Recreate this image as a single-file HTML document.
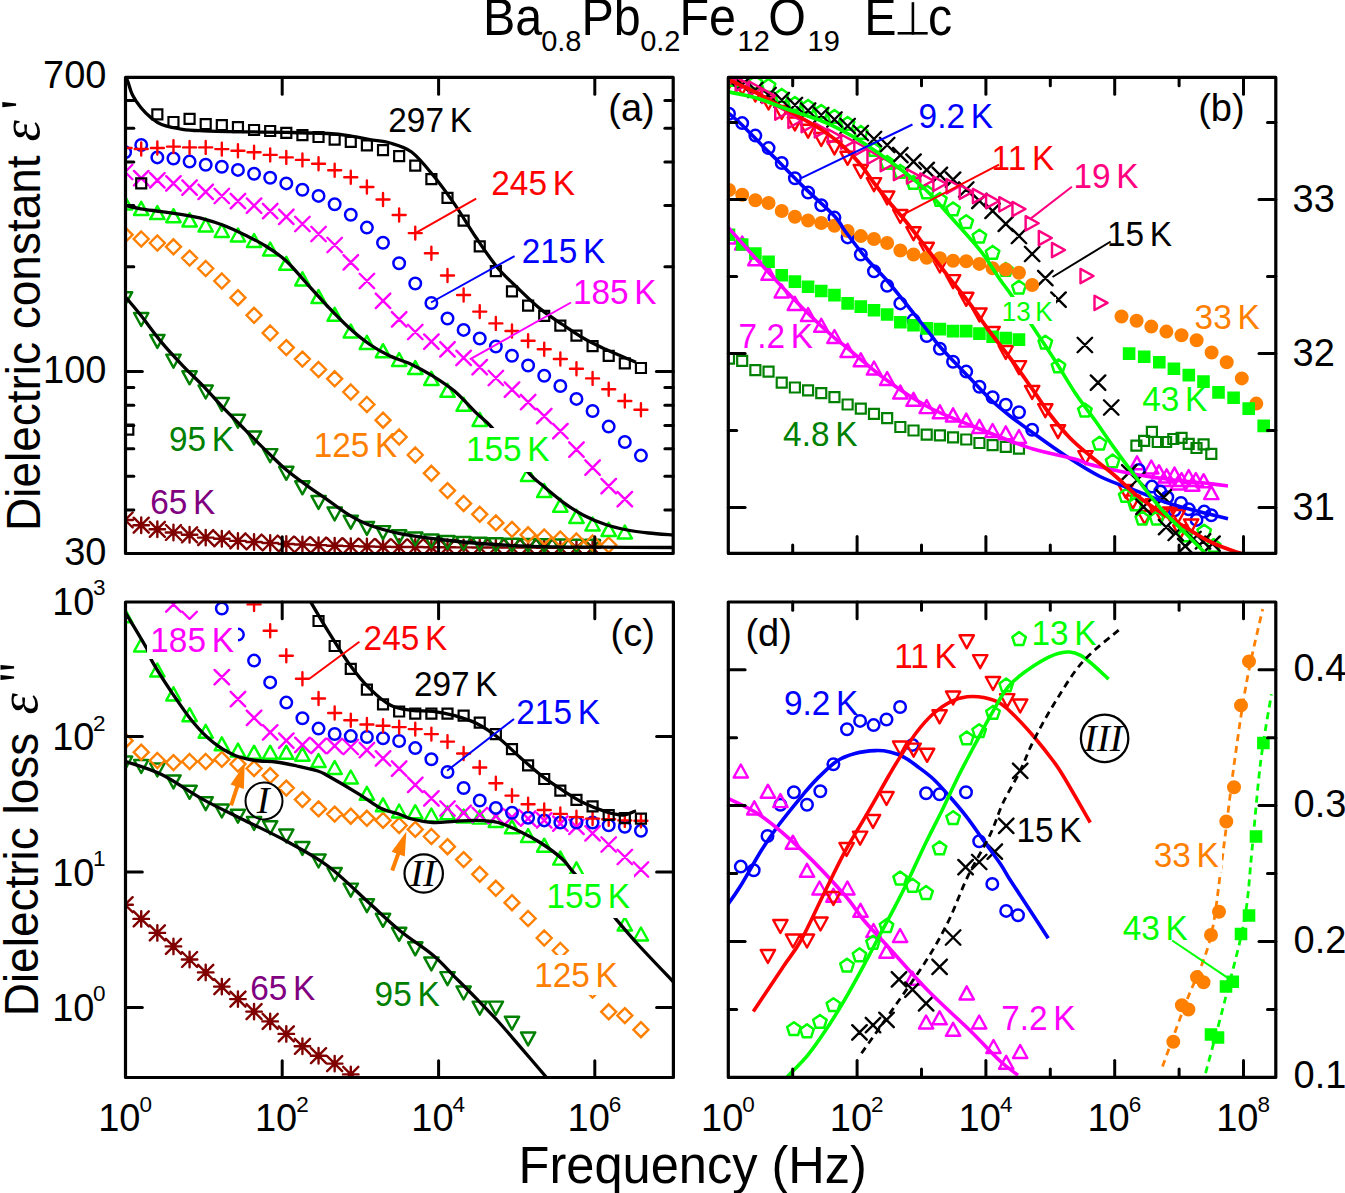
<!DOCTYPE html>
<html><head><meta charset="utf-8"><title>Ba0.8Pb0.2Fe12O19 dielectric</title>
<style>html,body{margin:0;padding:0;background:#fff;overflow:hidden}svg{display:block}</style>
</head><body><svg width="1345" height="1193" viewBox="0 0 1345 1193"><defs><clipPath id="ca"><rect x="125.5" y="77.4" width="547.7" height="476.1"/></clipPath><clipPath id="cb"><rect x="728.3" y="77.4" width="547.5" height="476"/></clipPath><clipPath id="cc"><rect x="125.5" y="602" width="547.9" height="475.5"/></clipPath><clipPath id="cd"><rect x="728.3" y="602" width="547.5" height="475.4"/></clipPath></defs><rect x="0" y="0" width="1345" height="1193" fill="#fff"/><g clip-path="url(#ca)"><path d="M117.35 520h15.5M125.1 512.25v15.5M117.58 512.48l15.04 15.04M117.58 527.52l15.04 -15.04M133.47 525.2h15.5M141.22 517.45v15.5M133.7 517.68l15.04 15.04M133.7 532.72l15.04 -15.04M149.59 529.3h15.5M157.34 521.55v15.5M149.82 521.78l15.04 15.04M149.82 536.82l15.04 -15.04M165.71 532.5h15.5M173.46 524.75v15.5M165.94 524.98l15.04 15.04M165.94 540.02l15.04 -15.04M181.83 534.8h15.5M189.58 527.05v15.5M182.06 527.28l15.04 15.04M182.06 542.32l15.04 -15.04M197.95 537.6h15.5M205.7 529.85v15.5M198.18 530.08l15.04 15.04M198.18 545.12l15.04 -15.04M214.07 538.8h15.5M221.82 531.05v15.5M214.3 531.28l15.04 15.04M214.3 546.32l15.04 -15.04M230.19 540.9h15.5M237.94 533.15v15.5M230.42 533.38l15.04 15.04M230.42 548.42l15.04 -15.04M246.31 542h15.5M254.06 534.25v15.5M246.54 534.48l15.04 15.04M246.54 549.52l15.04 -15.04M262.43 543h15.5M270.18 535.25v15.5M262.66 535.48l15.04 15.04M262.66 550.52l15.04 -15.04M278.55 544h15.5M286.3 536.25v15.5M278.78 536.48l15.04 15.04M278.78 551.52l15.04 -15.04M294.67 544.5h15.5M302.42 536.75v15.5M294.9 536.98l15.04 15.04M294.9 552.02l15.04 -15.04M310.79 545.1h15.5M318.54 537.35v15.5M311.02 537.58l15.04 15.04M311.02 552.62l15.04 -15.04M326.91 545.7h15.5M334.66 537.95v15.5M327.14 538.18l15.04 15.04M327.14 553.22l15.04 -15.04M343.03 546.1h15.5M350.78 538.35v15.5M343.26 538.58l15.04 15.04M343.26 553.62l15.04 -15.04M359.15 546.5h15.5M366.9 538.75v15.5M359.38 538.98l15.04 15.04M359.38 554.02l15.04 -15.04M375.27 546.7h15.5M383.02 538.95v15.5M375.5 539.18l15.04 15.04M375.5 554.22l15.04 -15.04M391.39 547h15.5M399.14 539.25v15.5M391.62 539.48l15.04 15.04M391.62 554.52l15.04 -15.04M407.51 547h15.5M415.26 539.25v15.5M407.74 539.48l15.04 15.04M407.74 554.52l15.04 -15.04M423.63 547.2h15.5M431.38 539.45v15.5M423.86 539.68l15.04 15.04M423.86 554.72l15.04 -15.04M439.75 547.3h15.5M447.5 539.55v15.5M439.98 539.78l15.04 15.04M439.98 554.82l15.04 -15.04M455.87 547.4h15.5M463.62 539.65v15.5M456.1 539.88l15.04 15.04M456.1 554.92l15.04 -15.04M471.99 547.5h15.5M479.74 539.75v15.5M472.22 539.98l15.04 15.04M472.22 555.02l15.04 -15.04M488.11 547.5h15.5M495.86 539.75v15.5M488.34 539.98l15.04 15.04M488.34 555.02l15.04 -15.04M504.23 547.6h15.5M511.98 539.85v15.5M504.46 540.08l15.04 15.04M504.46 555.12l15.04 -15.04M520.35 547.6h15.5M528.1 539.85v15.5M520.58 540.08l15.04 15.04M520.58 555.12l15.04 -15.04M536.47 547.7h15.5M544.22 539.95v15.5M536.7 540.18l15.04 15.04M536.7 555.22l15.04 -15.04M552.59 547.7h15.5M560.34 539.95v15.5M552.82 540.18l15.04 15.04M552.82 555.22l15.04 -15.04M568.71 547.8h15.5M576.46 540.05v15.5M568.94 540.28l15.04 15.04M568.94 555.32l15.04 -15.04M584.83 547.8h15.5M592.58 540.05v15.5M585.06 540.28l15.04 15.04M585.06 555.32l15.04 -15.04" fill="none" stroke="#800000" stroke-width="2.4" stroke-linejoin="round" stroke-linecap="round"/><path d="M125.1 305.2L132.25 292.2L117.95 292.2zM141.22 326L148.37 313L134.07 313zM157.34 347.9L164.49 334.9L150.19 334.9zM173.46 367.6L180.61 354.6L166.31 354.6zM189.58 384.3L196.73 371.3L182.43 371.3zM205.7 398.5L212.85 385.5L198.55 385.5zM221.82 411L228.97 398L214.67 398zM237.94 427.7L245.09 414.7L230.79 414.7zM254.06 444.4L261.21 431.4L246.91 431.4zM270.18 462.1L277.33 449.1L263.03 449.1zM286.3 479.8L293.45 466.8L279.15 466.8zM302.42 494.3L309.57 481.3L295.27 481.3zM318.54 508.9L325.69 495.9L311.39 495.9zM334.66 520.4L341.81 507.4L327.51 507.4zM350.78 528.7L357.93 515.7L343.63 515.7zM366.9 534.9L374.05 521.9L359.75 521.9zM383.02 539.1L390.17 526.1L375.87 526.1zM399.14 543.3L406.29 530.3L391.99 530.3zM415.26 545.5L422.41 532.5L408.11 532.5zM431.38 547.5L438.53 534.5L424.23 534.5zM447.5 549L454.65 536L440.35 536zM463.62 550L470.77 537L456.47 537zM479.74 550.7L486.89 537.7L472.59 537.7zM495.86 551.3L503.01 538.3L488.71 538.3zM511.98 551.7L519.13 538.7L504.83 538.7zM528.1 552L535.25 539L520.95 539zM544.22 552.3L551.37 539.3L537.07 539.3zM560.34 552.5L567.49 539.5L553.19 539.5zM576.46 552.7L583.61 539.7L569.31 539.7zM592.58 552.8L599.73 539.8L585.43 539.8z" fill="none" stroke="#008000" stroke-width="2.45" stroke-linejoin="round" stroke-linecap="butt"/><path d="M125.1 227.3L132.6 234.8L125.1 242.3L117.6 234.8zM141.22 231.5L148.72 239L141.22 246.5L133.72 239zM157.34 235.5L164.84 243L157.34 250.5L149.84 243zM173.46 239.3L180.96 246.8L173.46 254.3L165.96 246.8zM189.58 250.6L197.08 258.1L189.58 265.6L182.08 258.1zM205.7 261L213.2 268.5L205.7 276L198.2 268.5zM221.82 273.5L229.32 281L221.82 288.5L214.32 281zM237.94 290.2L245.44 297.7L237.94 305.2L230.44 297.7zM254.06 307.8L261.56 315.3L254.06 322.8L246.56 315.3zM270.18 325.5L277.68 333L270.18 340.5L262.68 333zM286.3 340.1L293.8 347.6L286.3 355.1L278.8 347.6zM302.42 351.6L309.92 359.1L302.42 366.6L294.92 359.1zM318.54 362L326.04 369.5L318.54 377L311.04 369.5zM334.66 371.3L342.16 378.8L334.66 386.3L327.16 378.8zM350.78 384.5L358.28 392L350.78 399.5L343.28 392zM366.9 397L374.4 404.5L366.9 412L359.4 404.5zM383.02 412.7L390.52 420.2L383.02 427.7L375.52 420.2zM399.14 429.5L406.64 437L399.14 444.5L391.64 437zM415.26 447.5L422.76 455L415.26 462.5L407.76 455zM431.38 465.8L438.88 473.3L431.38 480.8L423.88 473.3zM447.5 483.1L455 490.6L447.5 498.1L440 490.6zM463.62 496L471.12 503.5L463.62 511L456.12 503.5zM479.74 506.8L487.24 514.3L479.74 521.8L472.24 514.3zM495.86 515.4L503.36 522.9L495.86 530.4L488.36 522.9zM511.98 521.9L519.48 529.4L511.98 536.9L504.48 529.4zM528.1 527.3L535.6 534.8L528.1 542.3L520.6 534.8zM544.22 529.5L551.72 537L544.22 544.5L536.72 537zM560.34 531.5L567.84 539L560.34 546.5L552.84 539zM576.46 533.5L583.96 541L576.46 548.5L568.96 541zM592.58 535.5L600.08 543L592.58 550.5L585.08 543zM608.7 537.5L616.2 545L608.7 552.5L601.2 545z" fill="none" stroke="#FF8000" stroke-width="2.4" stroke-linejoin="miter" stroke-linecap="butt"/><path d="M125.1 196.5L132.25 209.5L117.95 209.5zM141.22 201.9L148.37 214.9L134.07 214.9zM157.34 206.1L164.49 219.1L150.19 219.1zM173.46 209.2L180.61 222.2L166.31 222.2zM189.58 213.4L196.73 226.4L182.43 226.4zM205.7 218.5L212.85 231.5L198.55 231.5zM221.82 224L228.97 237L214.67 237zM237.94 228.5L245.09 241.5L230.79 241.5zM254.06 234L261.21 247L246.91 247zM270.18 242.5L277.33 255.5L263.03 255.5zM286.3 256.8L293.45 269.8L279.15 269.8zM302.42 272.4L309.57 285.4L295.27 285.4zM318.54 290.1L325.69 303.1L311.39 303.1zM334.66 307.8L341.81 320.8L327.51 320.8zM350.78 324.5L357.93 337.5L343.63 337.5zM366.9 335.9L374.05 348.9L359.75 348.9zM383.02 344.2L390.17 357.2L375.87 357.2zM399.14 353L406.29 366L391.99 366zM415.26 361.1L422.41 374.1L408.11 374.1zM431.38 371.9L438.53 384.9L424.23 384.9zM447.5 383.8L454.65 396.8L440.35 396.8zM463.62 397.8L470.77 410.8L456.47 410.8zM479.74 412.9L486.89 425.9L472.59 425.9zM495.86 429.5L503.01 442.5L488.71 442.5zM511.98 448.5L519.13 461.5L504.83 461.5zM528.1 467.9L535.25 480.9L520.95 480.9zM544.22 484.1L551.37 497.1L537.07 497.1zM560.34 498.7L567.49 511.7L553.19 511.7zM576.46 509.9L583.61 522.9L569.31 522.9zM592.58 517.5L599.73 530.5L585.43 530.5zM608.7 522.9L615.85 535.9L601.55 535.9zM624.82 525.5L631.97 538.5L617.67 538.5z" fill="none" stroke="#00FF00" stroke-width="2.5" stroke-linejoin="round" stroke-linecap="butt"/><path d="M117.85 164.75l14.5 14.5M117.85 179.25l14.5 -14.5M133.97 170.95l14.5 14.5M133.97 185.45l14.5 -14.5M150.09 173.05l14.5 14.5M150.09 187.55l14.5 -14.5M166.21 176.15l14.5 14.5M166.21 190.65l14.5 -14.5M182.33 180.35l14.5 14.5M182.33 194.85l14.5 -14.5M198.45 184.55l14.5 14.5M198.45 199.05l14.5 -14.5M214.57 188.75l14.5 14.5M214.57 203.25l14.5 -14.5M230.69 193.85l14.5 14.5M230.69 208.35l14.5 -14.5M246.81 198.45l14.5 14.5M246.81 212.95l14.5 -14.5M262.93 203.85l14.5 14.5M262.93 218.35l14.5 -14.5M279.05 209.55l14.5 14.5M279.05 224.05l14.5 -14.5M295.17 216.75l14.5 14.5M295.17 231.25l14.5 -14.5M311.29 226.75l14.5 14.5M311.29 241.25l14.5 -14.5M327.41 237.75l14.5 14.5M327.41 252.25l14.5 -14.5M343.53 255.05l14.5 14.5M343.53 269.55l14.5 -14.5M359.65 273.75l14.5 14.5M359.65 288.25l14.5 -14.5M375.77 293.55l14.5 14.5M375.77 308.05l14.5 -14.5M391.89 312.05l14.5 14.5M391.89 326.55l14.5 -14.5M408.01 324.75l14.5 14.5M408.01 339.25l14.5 -14.5M424.13 334.45l14.5 14.5M424.13 348.95l14.5 -14.5M440.25 342.05l14.5 14.5M440.25 356.55l14.5 -14.5M456.37 350.65l14.5 14.5M456.37 365.15l14.5 -14.5M472.49 359.95l14.5 14.5M472.49 374.45l14.5 -14.5M488.61 370.75l14.5 14.5M488.61 385.25l14.5 -14.5M504.73 382.35l14.5 14.5M504.73 396.85l14.5 -14.5M520.85 394.85l14.5 14.5M520.85 409.35l14.5 -14.5M536.97 408.85l14.5 14.5M536.97 423.35l14.5 -14.5M553.09 423.95l14.5 14.5M553.09 438.45l14.5 -14.5M569.21 442.35l14.5 14.5M569.21 456.85l14.5 -14.5M585.33 460.35l14.5 14.5M585.33 474.85l14.5 -14.5M601.45 478.95l14.5 14.5M601.45 493.45l14.5 -14.5M617.57 491.95l14.5 14.5M617.57 506.45l14.5 -14.5" fill="none" stroke="#FF00FF" stroke-width="2.4" stroke-linejoin="round" stroke-linecap="round"/><path d="M119.35 152.2a5.75 5.75 0 1 0 11.5 0a5.75 5.75 0 1 0 -11.5 0zM135.47 145a5.75 5.75 0 1 0 11.5 0a5.75 5.75 0 1 0 -11.5 0zM151.59 157.4a5.75 5.75 0 1 0 11.5 0a5.75 5.75 0 1 0 -11.5 0zM167.71 158.5a5.75 5.75 0 1 0 11.5 0a5.75 5.75 0 1 0 -11.5 0zM183.83 161.6a5.75 5.75 0 1 0 11.5 0a5.75 5.75 0 1 0 -11.5 0zM199.95 164.7a5.75 5.75 0 1 0 11.5 0a5.75 5.75 0 1 0 -11.5 0zM216.07 166.8a5.75 5.75 0 1 0 11.5 0a5.75 5.75 0 1 0 -11.5 0zM232.19 169.9a5.75 5.75 0 1 0 11.5 0a5.75 5.75 0 1 0 -11.5 0zM248.31 173.7a5.75 5.75 0 1 0 11.5 0a5.75 5.75 0 1 0 -11.5 0zM264.43 177.8a5.75 5.75 0 1 0 11.5 0a5.75 5.75 0 1 0 -11.5 0zM280.55 183.4a5.75 5.75 0 1 0 11.5 0a5.75 5.75 0 1 0 -11.5 0zM296.67 189.7a5.75 5.75 0 1 0 11.5 0a5.75 5.75 0 1 0 -11.5 0zM312.79 195.9a5.75 5.75 0 1 0 11.5 0a5.75 5.75 0 1 0 -11.5 0zM328.91 204.3a5.75 5.75 0 1 0 11.5 0a5.75 5.75 0 1 0 -11.5 0zM345.03 214.7a5.75 5.75 0 1 0 11.5 0a5.75 5.75 0 1 0 -11.5 0zM361.15 227.6a5.75 5.75 0 1 0 11.5 0a5.75 5.75 0 1 0 -11.5 0zM377.27 242.8a5.75 5.75 0 1 0 11.5 0a5.75 5.75 0 1 0 -11.5 0zM393.39 263.2a5.75 5.75 0 1 0 11.5 0a5.75 5.75 0 1 0 -11.5 0zM409.51 283.5a5.75 5.75 0 1 0 11.5 0a5.75 5.75 0 1 0 -11.5 0zM425.63 303a5.75 5.75 0 1 0 11.5 0a5.75 5.75 0 1 0 -11.5 0zM441.75 318.5a5.75 5.75 0 1 0 11.5 0a5.75 5.75 0 1 0 -11.5 0zM457.87 329.9a5.75 5.75 0 1 0 11.5 0a5.75 5.75 0 1 0 -11.5 0zM473.99 338.5a5.75 5.75 0 1 0 11.5 0a5.75 5.75 0 1 0 -11.5 0zM490.11 346.5a5.75 5.75 0 1 0 11.5 0a5.75 5.75 0 1 0 -11.5 0zM506.23 355.8a5.75 5.75 0 1 0 11.5 0a5.75 5.75 0 1 0 -11.5 0zM522.35 365.5a5.75 5.75 0 1 0 11.5 0a5.75 5.75 0 1 0 -11.5 0zM538.47 375.8a5.75 5.75 0 1 0 11.5 0a5.75 5.75 0 1 0 -11.5 0zM554.59 386a5.75 5.75 0 1 0 11.5 0a5.75 5.75 0 1 0 -11.5 0zM570.71 398.9a5.75 5.75 0 1 0 11.5 0a5.75 5.75 0 1 0 -11.5 0zM586.83 411a5.75 5.75 0 1 0 11.5 0a5.75 5.75 0 1 0 -11.5 0zM602.95 426.6a5.75 5.75 0 1 0 11.5 0a5.75 5.75 0 1 0 -11.5 0zM619.07 442a5.75 5.75 0 1 0 11.5 0a5.75 5.75 0 1 0 -11.5 0zM635.19 455.6a5.75 5.75 0 1 0 11.5 0a5.75 5.75 0 1 0 -11.5 0z" fill="none" stroke="#0000FF" stroke-width="2.5" stroke-linejoin="round" stroke-linecap="butt"/><path d="M118.6 148h13M125.1 141.5v13M134.72 149h13M141.22 142.5v13M150.84 148h13M157.34 141.5v13M166.96 146.6h13M173.46 140.1v13M183.08 147.4h13M189.58 140.9v13M199.2 147.4h13M205.7 140.9v13M215.32 149.1h13M221.82 142.6v13M231.44 150.8h13M237.94 144.3v13M247.56 152.2h13M254.06 145.7v13M263.68 154.9h13M270.18 148.4v13M279.8 157.4h13M286.3 150.9v13M295.92 159.9h13M302.42 153.4v13M312.04 163.7h13M318.54 157.2v13M328.16 170.3h13M334.66 163.8v13M344.28 177.2h13M350.78 170.7v13M360.4 187h13M366.9 180.5v13M376.52 199.5h13M383.02 193v13M392.64 215h13M399.14 208.5v13M408.76 233.1h13M415.26 226.6v13M424.88 253.3h13M431.38 246.8v13M441 275.5h13M447.5 269v13M457.12 295h13M463.62 288.5v13M473.24 311.6h13M479.74 305.1v13M489.36 323.4h13M495.86 316.9v13M505.48 331h13M511.98 324.5v13M521.6 340.7h13M528.1 334.2v13M537.72 349.3h13M544.22 342.8v13M553.84 359h13M560.34 352.5v13M569.96 368.7h13M576.46 362.2v13M586.08 378.4h13M592.58 371.9v13M602.2 389.2h13M608.7 382.7v13M618.32 401h13M624.82 394.5v13M634.44 409.7h13M640.94 403.2v13" fill="none" stroke="#FF0000" stroke-width="2.4" stroke-linejoin="round" stroke-linecap="round"/><path d="M136.22 178.4h10v10h-10zM152.34 109.3h10v10h-10zM168.46 117h10v10h-10zM184.58 113.9h10v10h-10zM200.7 119.1h10v10h-10zM216.82 120.2h10v10h-10zM232.94 122.2h10v10h-10zM249.06 125h10v10h-10zM265.18 126h10v10h-10zM281.3 127.9h10v10h-10zM297.42 130.2h10v10h-10zM313.54 132h10v10h-10zM329.66 134.7h10v10h-10zM345.78 136.8h10v10h-10zM361.9 140.4h10v10h-10zM378.02 145.1h10v10h-10zM394.14 151.2h10v10h-10zM410.26 160.6h10v10h-10zM426.38 174.2h10v10h-10zM442.5 192.9h10v10h-10zM458.62 215.6h10v10h-10zM474.74 241.4h10v10h-10zM490.86 266.2h10v10h-10zM506.98 286.4h10v10h-10zM523.1 300.6h10v10h-10zM539.22 310.9h10v10h-10zM555.34 320.6h10v10h-10zM571.46 330.7h10v10h-10zM587.58 341.1h10v10h-10zM603.7 350.8h10v10h-10zM619.82 358.3h10v10h-10zM635.94 363h10v10h-10z" fill="none" stroke="#000000" stroke-width="2.2" stroke-linejoin="miter" stroke-linecap="butt"/><path d="M123.3 424.6h10v10h-10z" fill="none" stroke="#000000" stroke-width="2.2" stroke-linejoin="miter" stroke-linecap="butt"/><path d="M125.5 76C125.92 77 126.83 78.83 128 82C129.17 85.17 130.37 90.75 132.5 95C134.63 99.25 137.68 103.68 140.8 107.5C143.92 111.32 147.73 115.07 151.2 117.9C154.67 120.73 156.4 122.6 161.6 124.5C166.8 126.4 175.45 128.25 182.4 129.3C189.35 130.35 192.88 130.38 203.3 130.8C213.72 131.22 231.03 131.53 244.9 131.8C258.77 132.07 272.62 132.12 286.5 132.4C300.38 132.68 317.78 132.97 328.2 133.5C338.62 134.03 342.07 134.57 349 135.6C355.93 136.63 362.97 138.47 369.8 139.7C376.63 140.93 383.03 140.95 390 143C396.97 145.05 404.42 146.62 411.6 152C418.78 157.38 425.92 166.57 433.1 175.3C440.28 184.03 447.52 193.98 454.7 204.4C461.88 214.82 469.02 227.2 476.2 237.8C483.38 248.4 490.6 259.37 497.8 268C505 276.63 512.22 282.7 519.4 289.6C526.58 296.5 533.72 303.58 540.9 309.4C548.08 315.22 555.32 319.65 562.5 324.5C569.68 329.35 576.82 334.37 584 338.5C591.18 342.63 599.6 346.47 605.6 349.3C611.6 352.13 614.93 353.35 620 355.5C625.07 357.65 633.33 361.08 636 362.2" fill="none" stroke="#000000" stroke-width="3.3" stroke-linejoin="round"/><path d="M125.5 205.5C128.05 206.05 134.78 207.78 140.8 208.8C146.82 209.82 154.67 210.62 161.6 211.6C168.53 212.58 175.45 213.5 182.4 214.7C189.35 215.9 196.37 217 203.3 218.8C210.23 220.6 217.07 222.8 224 225.5C230.93 228.2 237.95 231.58 244.9 235C251.85 238.42 258.77 241.63 265.7 246C272.63 250.37 279.57 254.85 286.5 261.2C293.43 267.55 300.35 276.47 307.3 284.1C314.25 291.73 321.25 299.72 328.2 307C335.15 314.28 342.07 321.55 349 327.8C355.93 334.05 362.97 339.8 369.8 344.5C376.63 349.2 383.03 352.68 390 356C396.97 359.32 404.42 361.03 411.6 364.4C418.78 367.77 425.92 371.72 433.1 376.2C440.28 380.68 447.52 385.18 454.7 391.3C461.88 397.42 470.1 406.97 476.2 412.9C482.3 418.83 485.67 420.72 491.3 426.9C496.93 433.08 503.53 442.08 510 450C516.47 457.92 524.95 468.72 530.1 474.4C535.25 480.08 535.5 479.53 540.9 484.1C546.3 488.67 555.32 496.57 562.5 501.8C569.68 507.03 576.82 511.72 584 515.5C591.18 519.28 598.4 522.08 605.6 524.5C612.8 526.92 620.02 528.58 627.2 530C634.38 531.42 641.07 532.17 648.7 533C656.33 533.83 668.95 534.67 673 535" fill="none" stroke="#000000" stroke-width="3.3" stroke-linejoin="round"/><path d="M125.5 297C128.05 300.05 134.78 307.73 140.8 315.3C146.82 322.87 154.67 334.07 161.6 342.4C168.53 350.73 175.45 358.02 182.4 365.3C189.35 372.58 196.35 378.87 203.3 386.1C210.25 393.33 217.17 401.45 224.1 408.7C231.03 415.95 237.97 422.65 244.9 429.6C251.83 436.55 258.77 443.65 265.7 450.4C272.63 457.15 279.57 464.2 286.5 470.1C293.43 476 300.35 480.77 307.3 485.8C314.25 490.83 321.25 495.45 328.2 500.3C335.15 505.15 342.07 510.73 349 514.9C355.93 519.07 361.3 522.18 369.8 525.3C378.3 528.42 388.3 531.23 400 533.6C411.7 535.97 426.67 537.85 440 539.5C453.33 541.15 465 542.37 480 543.5C495 544.63 510 545.68 530 546.3C550 546.92 576.17 547 600 547.2C623.83 547.4 660.83 547.45 673 547.5" fill="none" stroke="#000000" stroke-width="3.3" stroke-linejoin="round"/></g><line x1="415.4" y1="233.1" x2="476.2" y2="198.6" stroke="#FF0000" stroke-width="2" stroke-linecap="butt"/><line x1="431" y1="302.5" x2="514.6" y2="256.1" stroke="#0000FF" stroke-width="2" stroke-linecap="butt"/><line x1="469.8" y1="359.4" x2="571" y2="302.5" stroke="#FF00FF" stroke-width="2" stroke-linecap="butt"/><text transform="translate(388.3,131.5) scale(0.94,1)" font-family='"Liberation Sans", sans-serif' font-size="35.5" fill="#000000" word-spacing="-3.8">297 K</text><text transform="translate(491.3,195.4) scale(0.94,1)" font-family='"Liberation Sans", sans-serif' font-size="35.5" fill="#FF0000" word-spacing="-3.8">245 K</text><text transform="translate(521.7,262.6) scale(0.94,1)" font-family='"Liberation Sans", sans-serif' font-size="35.5" fill="#0000FF" word-spacing="-3.8">215 K</text><text transform="translate(573,303.6) scale(0.94,1)" font-family='"Liberation Sans", sans-serif' font-size="35.5" fill="#FF00FF" word-spacing="-3.8">185 K</text><rect x="463" y="428" width="89" height="44" fill="#fff"/><text transform="translate(466,461.4) scale(0.94,1)" font-family='"Liberation Sans", sans-serif' font-size="35.5" fill="#00FF00" word-spacing="-3.8">155 K</text><text transform="translate(313.7,457) scale(0.94,1)" font-family='"Liberation Sans", sans-serif' font-size="35.5" fill="#FF8000" word-spacing="-3.8">125 K</text><text transform="translate(169,450.8) scale(0.94,1)" font-family='"Liberation Sans", sans-serif' font-size="35.5" fill="#008000" word-spacing="-3.8">95 K</text><text transform="translate(150.3,513.9) scale(0.94,1)" font-family='"Liberation Sans", sans-serif' font-size="35.5" fill="#800080" word-spacing="-3.8">65 K</text><text x="608.3" y="121" font-family='"Liberation Sans", sans-serif' font-size="38" fill="#000000" text-anchor="start">(a)</text><g clip-path="url(#cb)"><path d="M724 353.7h10v10h-10zM737.18 355.8h10v10h-10zM750.36 365.2h10v10h-10zM763.54 366.6h10v10h-10zM776.72 377.7h10v10h-10zM789.9 382.5h10v10h-10zM803.08 385.4h10v10h-10zM816.26 388.1h10v10h-10zM829.44 392.2h10v10h-10zM842.62 399.5h10v10h-10zM855.8 403.7h10v10h-10zM868.98 408.9h10v10h-10zM882.16 413.1h10v10h-10zM895.34 422h10v10h-10zM908.52 425.5h10v10h-10zM921.7 429.7h10v10h-10zM934.88 430.3h10v10h-10zM948.06 432.4h10v10h-10zM961.24 434.5h10v10h-10zM974.42 438h10v10h-10zM987.6 440.1h10v10h-10zM1000.78 441.8h10v10h-10zM1013.96 443.6h10v10h-10zM1131.4 440.6h10v10h-10zM1139.1 435.8h10v10h-10zM1146.9 426.9h10v10h-10zM1152.8 437h10v10h-10zM1161.1 437h10v10h-10zM1168.3 434h10v10h-10zM1176.6 432.8h10v10h-10zM1183.7 438.8h10v10h-10zM1191.5 443h10v10h-10zM1198.6 439.4h10v10h-10zM1206.3 448.9h10v10h-10z" fill="none" stroke="#008000" stroke-width="2.2" stroke-linejoin="miter" stroke-linecap="butt"/><path d="M729 230.5L736.15 243.5L721.85 243.5zM742.18 236.6L749.33 249.6L735.03 249.6zM755.36 252.2L762.51 265.2L748.21 265.2zM768.54 266.8L775.69 279.8L761.39 279.8zM781.72 284.5L788.87 297.5L774.57 297.5zM794.9 296.9L802.05 309.9L787.75 309.9zM808.08 308L815.23 321L800.93 321zM821.26 318.8L828.41 331.8L814.11 331.8zM834.44 330L841.59 343L827.29 343zM847.62 343.9L854.77 356.9L840.47 356.9zM860.8 353.3L867.95 366.3L853.65 366.3zM873.98 361.5L881.13 374.5L866.83 374.5zM887.16 372L894.31 385L880.01 385zM900.34 385.5L907.49 398.5L893.19 398.5zM913.52 392.8L920.67 405.8L906.37 405.8zM926.7 400.1L933.85 413.1L919.55 413.1zM939.88 405.3L947.03 418.3L932.73 418.3zM953.06 408.4L960.21 421.4L945.91 421.4zM966.24 413.6L973.39 426.6L959.09 426.6zM979.42 419.9L986.57 432.9L972.27 432.9zM992.6 424L999.75 437L985.45 437zM1005.78 426.3L1012.93 439.3L998.63 439.3zM1018.96 430L1026.11 443L1011.81 443zM1137 456.3L1144.15 469.3L1129.85 469.3zM1151.3 460.5L1158.45 473.5L1144.15 473.5zM1159 465.2L1166.15 478.2L1151.85 478.2zM1163.8 473L1170.95 486L1156.65 486zM1166.7 469.4L1173.85 482.4L1159.55 482.4zM1174.5 467.6L1181.65 480.6L1167.35 480.6zM1178 476.5L1185.15 489.5L1170.85 489.5zM1181.6 473L1188.75 486L1174.45 486zM1188.7 470L1195.85 483L1181.55 483zM1192.3 477.7L1199.45 490.7L1185.15 490.7zM1195.9 473L1203.05 486L1188.75 486zM1203.6 474.2L1210.75 487.2L1196.45 487.2zM1211.3 486.1L1218.45 499.1L1204.15 499.1z" fill="none" stroke="#FF00FF" stroke-width="2.45" stroke-linejoin="round" stroke-linecap="butt"/><path d="M723.25 113.7a5.75 5.75 0 1 0 11.5 0a5.75 5.75 0 1 0 -11.5 0zM736.43 123.1a5.75 5.75 0 1 0 11.5 0a5.75 5.75 0 1 0 -11.5 0zM749.61 135.6a5.75 5.75 0 1 0 11.5 0a5.75 5.75 0 1 0 -11.5 0zM762.79 148.1a5.75 5.75 0 1 0 11.5 0a5.75 5.75 0 1 0 -11.5 0zM775.97 163a5.75 5.75 0 1 0 11.5 0a5.75 5.75 0 1 0 -11.5 0zM789.15 178.2a5.75 5.75 0 1 0 11.5 0a5.75 5.75 0 1 0 -11.5 0zM802.33 192.5a5.75 5.75 0 1 0 11.5 0a5.75 5.75 0 1 0 -11.5 0zM815.51 205.2a5.75 5.75 0 1 0 11.5 0a5.75 5.75 0 1 0 -11.5 0zM828.69 217.6a5.75 5.75 0 1 0 11.5 0a5.75 5.75 0 1 0 -11.5 0zM841.87 237.4a5.75 5.75 0 1 0 11.5 0a5.75 5.75 0 1 0 -11.5 0zM855.05 254.5a5.75 5.75 0 1 0 11.5 0a5.75 5.75 0 1 0 -11.5 0zM868.23 271.2a5.75 5.75 0 1 0 11.5 0a5.75 5.75 0 1 0 -11.5 0zM881.41 285.8a5.75 5.75 0 1 0 11.5 0a5.75 5.75 0 1 0 -11.5 0zM894.59 303.4a5.75 5.75 0 1 0 11.5 0a5.75 5.75 0 1 0 -11.5 0zM907.77 320.1a5.75 5.75 0 1 0 11.5 0a5.75 5.75 0 1 0 -11.5 0zM920.95 336a5.75 5.75 0 1 0 11.5 0a5.75 5.75 0 1 0 -11.5 0zM934.13 348.8a5.75 5.75 0 1 0 11.5 0a5.75 5.75 0 1 0 -11.5 0zM947.31 361.8a5.75 5.75 0 1 0 11.5 0a5.75 5.75 0 1 0 -11.5 0zM960.49 371.6a5.75 5.75 0 1 0 11.5 0a5.75 5.75 0 1 0 -11.5 0zM973.67 386.8a5.75 5.75 0 1 0 11.5 0a5.75 5.75 0 1 0 -11.5 0zM986.85 397.2a5.75 5.75 0 1 0 11.5 0a5.75 5.75 0 1 0 -11.5 0zM1000.03 404.8a5.75 5.75 0 1 0 11.5 0a5.75 5.75 0 1 0 -11.5 0zM1013.21 412.3a5.75 5.75 0 1 0 11.5 0a5.75 5.75 0 1 0 -11.5 0zM1026.39 429.7a5.75 5.75 0 1 0 11.5 0a5.75 5.75 0 1 0 -11.5 0zM1133.05 470a5.75 5.75 0 1 0 11.5 0a5.75 5.75 0 1 0 -11.5 0zM1146.15 486.6a5.75 5.75 0 1 0 11.5 0a5.75 5.75 0 1 0 -11.5 0zM1154.45 491.4a5.75 5.75 0 1 0 11.5 0a5.75 5.75 0 1 0 -11.5 0zM1161.55 497.3a5.75 5.75 0 1 0 11.5 0a5.75 5.75 0 1 0 -11.5 0zM1168.75 510.4a5.75 5.75 0 1 0 11.5 0a5.75 5.75 0 1 0 -11.5 0zM1175.25 503a5.75 5.75 0 1 0 11.5 0a5.75 5.75 0 1 0 -11.5 0zM1182.95 509.2a5.75 5.75 0 1 0 11.5 0a5.75 5.75 0 1 0 -11.5 0zM1190.75 519.9a5.75 5.75 0 1 0 11.5 0a5.75 5.75 0 1 0 -11.5 0zM1198.45 511.6a5.75 5.75 0 1 0 11.5 0a5.75 5.75 0 1 0 -11.5 0zM1205.55 515.2a5.75 5.75 0 1 0 11.5 0a5.75 5.75 0 1 0 -11.5 0z" fill="none" stroke="#0000FF" stroke-width="2.5" stroke-linejoin="round" stroke-linecap="butt"/><path d="M729 88.5L736.15 75.5L721.85 75.5zM742.18 94.5L749.33 81.5L735.03 81.5zM755.36 101.5L762.51 88.5L748.21 88.5zM768.54 109.5L775.69 96.5L761.39 96.5zM781.72 119L788.87 106L774.57 106zM794.9 130.4L802.05 117.4L787.75 117.4zM808.08 137.7L815.23 124.7L800.93 124.7zM821.26 146L828.41 133L814.11 133zM834.44 154.4L841.59 141.4L827.29 141.4zM847.62 164.8L854.77 151.8L840.47 151.8zM860.8 178L867.95 165L853.65 165zM873.98 191.1L881.13 178.1L866.83 178.1zM887.16 204.5L894.31 191.5L880.01 191.5zM900.34 223L907.49 210L893.19 210zM913.52 240.2L920.67 227.2L906.37 227.2zM926.7 255.8L933.85 242.8L919.55 242.8zM939.88 272.5L947.03 259.5L932.73 259.5zM953.06 288.1L960.21 275.1L945.91 275.1zM966.24 305.8L973.39 292.8L959.09 292.8zM979.42 321.4L986.57 308.4L972.27 308.4zM992.6 339.9L999.75 326.9L985.45 326.9zM1005.78 359L1012.93 346L998.63 346zM1018.96 374.1L1026.11 361.1L1011.81 361.1zM1032.14 398.9L1039.29 385.9L1024.99 385.9zM1045.32 417.2L1052.47 404.2L1038.17 404.2zM1058 438.2L1065.15 425.2L1050.85 425.2zM1085.5 464.1L1092.65 451.1L1078.35 451.1zM1125.7 497.9L1132.85 484.9L1118.55 484.9zM1132.8 508.6L1139.95 495.6L1125.65 495.6zM1144.7 524L1151.85 511L1137.55 511zM1153 512.2L1160.15 499.2L1145.85 499.2zM1161.4 521.7L1168.55 508.7L1154.25 508.7zM1169.7 520.5L1176.85 507.5L1162.55 507.5zM1178 522.9L1185.15 509.9L1170.85 509.9zM1191.1 532.4L1198.25 519.4L1183.95 519.4zM1180.4 538.3L1187.55 525.3L1173.25 525.3z" fill="none" stroke="#FF0000" stroke-width="2.45" stroke-linejoin="round" stroke-linecap="butt"/><path d="M729 72.9L735.75 77.81L733.17 85.74L724.83 85.74L722.25 77.81zM742.18 73.9L748.93 78.81L746.35 86.74L738.01 86.74L735.43 78.81zM755.36 75.9L762.11 80.81L759.53 88.74L751.19 88.74L748.61 80.81zM768.54 78.9L775.29 83.81L772.71 91.74L764.37 91.74L761.79 83.81zM781.72 88.9L788.47 93.81L785.89 101.74L777.55 101.74L774.97 93.81zM794.9 96.9L801.65 101.81L799.07 109.74L790.73 109.74L788.15 101.81zM808.08 99.9L814.83 104.81L812.25 112.74L803.91 112.74L801.33 104.81zM821.26 104.9L828.01 109.81L825.43 117.74L817.09 117.74L814.51 109.81zM834.44 109.9L841.19 114.81L838.61 122.74L830.27 122.74L827.69 114.81zM847.62 116.9L854.37 121.81L851.79 129.74L843.45 129.74L840.87 121.81zM860.8 125.9L867.55 130.81L864.97 138.74L856.63 138.74L854.05 130.81zM873.98 142.9L880.73 147.81L878.15 155.74L869.81 155.74L867.23 147.81zM887.16 155.9L893.91 160.81L891.33 168.74L882.99 168.74L880.41 160.81zM900.34 164.9L907.09 169.81L904.51 177.74L896.17 177.74L893.59 169.81zM913.52 175.9L920.27 180.81L917.69 188.74L909.35 188.74L906.77 180.81zM926.7 185.4L933.45 190.31L930.87 198.24L922.53 198.24L919.95 190.31zM939.88 192.9L946.63 197.81L944.05 205.74L935.71 205.74L933.13 197.81zM953.06 202.4L959.81 207.31L957.23 215.24L948.89 215.24L946.31 207.31zM966.24 215.2L972.99 220.11L970.41 228.04L962.07 228.04L959.49 220.11zM979.42 229.7L986.17 234.61L983.59 242.54L975.25 242.54L972.67 234.61zM992.6 245.9L999.35 250.81L996.77 258.74L988.43 258.74L985.85 250.81zM1005.78 262.9L1012.53 267.81L1009.95 275.74L1001.61 275.74L999.03 267.81zM1018.96 280.7L1025.71 285.61L1023.13 293.54L1014.79 293.54L1012.21 285.61zM1032.14 307.9L1038.89 312.81L1036.31 320.74L1027.97 320.74L1025.39 312.81zM1045.32 335.7L1052.07 340.61L1049.49 348.54L1041.15 348.54L1038.57 340.61zM1058.5 359.4L1065.25 364.31L1062.67 372.24L1054.33 372.24L1051.75 364.31zM1084.86 403.6L1091.61 408.51L1089.03 416.44L1080.69 416.44L1078.11 408.51zM1099.5 436.7L1106.25 441.61L1103.67 449.54L1095.33 449.54L1092.75 441.61zM1112.6 454.5L1119.35 459.41L1116.77 467.34L1108.43 467.34L1105.85 459.41zM1125.7 489L1132.45 493.91L1129.87 501.84L1121.53 501.84L1118.95 493.91zM1135.2 497.4L1141.95 502.31L1139.37 510.24L1131.03 510.24L1128.45 502.31zM1142.3 511.6L1149.05 516.51L1146.47 524.44L1138.13 524.44L1135.55 516.51zM1156.6 511.6L1163.35 516.51L1160.77 524.44L1152.43 524.44L1149.85 516.51zM1185.2 528.3L1191.95 533.21L1189.37 541.14L1181.03 541.14L1178.45 533.21zM1204.2 524.7L1210.95 529.61L1208.37 537.54L1200.03 537.54L1197.45 529.61zM1213.7 539L1220.45 543.91L1217.87 551.84L1209.53 551.84L1206.95 543.91z" fill="none" stroke="#00FF00" stroke-width="2.5" stroke-linejoin="round" stroke-linecap="butt"/><path d="M721.75 72.75l14.5 14.5M721.75 87.25l14.5 -14.5M734.93 77.75l14.5 14.5M734.93 92.25l14.5 -14.5M748.11 82.75l14.5 14.5M748.11 97.25l14.5 -14.5M761.29 87.75l14.5 14.5M761.29 102.25l14.5 -14.5M774.47 92.75l14.5 14.5M774.47 107.25l14.5 -14.5M787.65 97.75l14.5 14.5M787.65 112.25l14.5 -14.5M800.83 103.25l14.5 14.5M800.83 117.75l14.5 -14.5M814.01 107.75l14.5 14.5M814.01 122.25l14.5 -14.5M827.19 112.25l14.5 14.5M827.19 126.75l14.5 -14.5M840.37 118.75l14.5 14.5M840.37 133.25l14.5 -14.5M853.55 125.75l14.5 14.5M853.55 140.25l14.5 -14.5M866.73 131.75l14.5 14.5M866.73 146.25l14.5 -14.5M879.91 137.75l14.5 14.5M879.91 152.25l14.5 -14.5M893.09 147.85l14.5 14.5M893.09 162.35l14.5 -14.5M906.27 154.45l14.5 14.5M906.27 168.95l14.5 -14.5M919.45 162.65l14.5 14.5M919.45 177.15l14.5 -14.5M932.63 167.55l14.5 14.5M932.63 182.05l14.5 -14.5M945.81 172.45l14.5 14.5M945.81 186.95l14.5 -14.5M958.99 182.25l14.5 14.5M958.99 196.75l14.5 -14.5M972.17 193.65l14.5 14.5M972.17 208.15l14.5 -14.5M985.35 203.55l14.5 14.5M985.35 218.05l14.5 -14.5M998.53 216.55l14.5 14.5M998.53 231.05l14.5 -14.5M1011.71 228.75l14.5 14.5M1011.71 243.25l14.5 -14.5M1024.89 246.75l14.5 14.5M1024.89 261.25l14.5 -14.5M1038.07 270.85l14.5 14.5M1038.07 285.35l14.5 -14.5M1051.25 292.45l14.5 14.5M1051.25 306.95l14.5 -14.5M1077.61 337.75l14.5 14.5M1077.61 352.25l14.5 -14.5M1090.79 375.45l14.5 14.5M1090.79 389.95l14.5 -14.5M1103.97 400.25l14.5 14.5M1103.97 414.75l14.5 -14.5M1122.05 465.05l14.5 14.5M1122.05 479.55l14.5 -14.5M1130.35 472.25l14.5 14.5M1130.35 486.75l14.5 -14.5M1136.25 499.55l14.5 14.5M1136.25 514.05l14.5 -14.5M1156.55 490.05l14.5 14.5M1156.55 504.55l14.5 -14.5M1158.85 519.85l14.5 14.5M1158.85 534.35l14.5 -14.5M1168.45 525.75l14.5 14.5M1168.45 540.25l14.5 -14.5M1177.95 538.85l14.5 14.5M1177.95 553.35l14.5 -14.5M1186.25 531.75l14.5 14.5M1186.25 546.25l14.5 -14.5M1195.75 534.05l14.5 14.5M1195.75 548.55l14.5 -14.5M1205.25 536.45l14.5 14.5M1205.25 550.95l14.5 -14.5" fill="none" stroke="#000000" stroke-width="2.4" stroke-linejoin="round" stroke-linecap="round"/><path d="M735.5 80L722.5 87.15L722.5 72.85zM748.68 84L735.68 91.15L735.68 76.85zM761.86 88.5L748.86 95.65L748.86 81.35zM775.04 95.8L762.04 102.95L762.04 88.65zM788.22 112.5L775.22 119.65L775.22 105.35zM801.4 120.8L788.4 127.95L788.4 113.65zM814.58 125L801.58 132.15L801.58 117.85zM827.76 130.2L814.76 137.35L814.76 123.05zM840.94 136.4L827.94 143.55L827.94 129.25zM854.12 141.6L841.12 148.75L841.12 134.45zM867.3 148.5L854.3 155.65L854.3 141.35zM880.48 156.8L867.48 163.95L867.48 149.65zM893.66 164.1L880.66 171.25L880.66 156.95zM906.84 173.1L893.84 180.25L893.84 165.95zM920.02 176.4L907.02 183.55L907.02 169.25zM933.2 180.5L920.2 187.65L920.2 173.35zM946.38 183.8L933.38 190.95L933.38 176.65zM959.56 186.2L946.56 193.35L946.56 179.05zM972.74 191.9L959.74 199.05L959.74 184.75zM985.92 196L972.92 203.15L972.92 188.85zM999.1 201L986.1 208.15L986.1 193.85zM1012.28 204.3L999.28 211.45L999.28 197.15zM1025.46 209L1012.46 216.15L1012.46 201.85zM1038.64 223.3L1025.64 230.45L1025.64 216.15zM1051.82 238L1038.82 245.15L1038.82 230.85zM1065 250L1052 257.15L1052 242.85zM1093.5 276L1080.5 283.15L1080.5 268.85zM1107.5 302.9L1094.5 310.05L1094.5 295.75z" fill="none" stroke="#FF0080" stroke-width="2.45" stroke-linejoin="round" stroke-linecap="butt"/><path d="M722 190a7 7 0 1 0 14 0a7 7 0 1 0 -14 0zM735.18 194.8a7 7 0 1 0 14 0a7 7 0 1 0 -14 0zM748.36 200.2a7 7 0 1 0 14 0a7 7 0 1 0 -14 0zM761.54 203a7 7 0 1 0 14 0a7 7 0 1 0 -14 0zM774.72 211a7 7 0 1 0 14 0a7 7 0 1 0 -14 0zM787.9 216.7a7 7 0 1 0 14 0a7 7 0 1 0 -14 0zM801.08 220.5a7 7 0 1 0 14 0a7 7 0 1 0 -14 0zM814.26 223a7 7 0 1 0 14 0a7 7 0 1 0 -14 0zM827.44 225.7a7 7 0 1 0 14 0a7 7 0 1 0 -14 0zM840.62 231a7 7 0 1 0 14 0a7 7 0 1 0 -14 0zM853.8 236.1a7 7 0 1 0 14 0a7 7 0 1 0 -14 0zM866.98 239a7 7 0 1 0 14 0a7 7 0 1 0 -14 0zM880.16 243a7 7 0 1 0 14 0a7 7 0 1 0 -14 0zM893.34 250.5a7 7 0 1 0 14 0a7 7 0 1 0 -14 0zM906.52 254.5a7 7 0 1 0 14 0a7 7 0 1 0 -14 0zM919.7 257.7a7 7 0 1 0 14 0a7 7 0 1 0 -14 0zM932.88 258.3a7 7 0 1 0 14 0a7 7 0 1 0 -14 0zM946.06 260.8a7 7 0 1 0 14 0a7 7 0 1 0 -14 0zM959.24 261.2a7 7 0 1 0 14 0a7 7 0 1 0 -14 0zM972.42 263.9a7 7 0 1 0 14 0a7 7 0 1 0 -14 0zM985.6 268.2a7 7 0 1 0 14 0a7 7 0 1 0 -14 0zM998.78 269.5a7 7 0 1 0 14 0a7 7 0 1 0 -14 0zM1011.96 272.7a7 7 0 1 0 14 0a7 7 0 1 0 -14 0zM1025.14 285a7 7 0 1 0 14 0a7 7 0 1 0 -14 0zM1114.5 316.5a7 7 0 1 0 14 0a7 7 0 1 0 -14 0zM1129.6 320.8a7 7 0 1 0 14 0a7 7 0 1 0 -14 0zM1144.3 326.6a7 7 0 1 0 14 0a7 7 0 1 0 -14 0zM1159.4 331.6a7 7 0 1 0 14 0a7 7 0 1 0 -14 0zM1174.5 335.3a7 7 0 1 0 14 0a7 7 0 1 0 -14 0zM1189.6 340.2a7 7 0 1 0 14 0a7 7 0 1 0 -14 0zM1204.6 352.5a7 7 0 1 0 14 0a7 7 0 1 0 -14 0zM1219.7 362.2a7 7 0 1 0 14 0a7 7 0 1 0 -14 0zM1234.8 378.4a7 7 0 1 0 14 0a7 7 0 1 0 -14 0zM1249.3 403.6a7 7 0 1 0 14 0a7 7 0 1 0 -14 0z" fill="#FF8000" stroke="none"/><path d="M722.7 228.5h12.6v12.6h-12.6zM735.88 238.2h12.6v12.6h-12.6zM749.06 247.2h12.6v12.6h-12.6zM762.24 255.5h12.6v12.6h-12.6zM775.42 269h12.6v12.6h-12.6zM788.6 275.3h12.6v12.6h-12.6zM801.78 280.5h12.6v12.6h-12.6zM814.96 284.7h12.6v12.6h-12.6zM828.14 288.8h12.6v12.6h-12.6zM841.32 297.1h12.6v12.6h-12.6zM854.5 300.3h12.6v12.6h-12.6zM867.68 304h12.6v12.6h-12.6zM880.86 308.2h12.6v12.6h-12.6zM894.04 315.9h12.6v12.6h-12.6zM907.22 319h12.6v12.6h-12.6zM920.4 322.1h12.6v12.6h-12.6zM933.58 322.8h12.6v12.6h-12.6zM946.76 324.8h12.6v12.6h-12.6zM959.94 324.8h12.6v12.6h-12.6zM973.12 327.3h12.6v12.6h-12.6zM986.3 330.5h12.6v12.6h-12.6zM999.48 331.8h12.6v12.6h-12.6zM1012.66 333.3h12.6v12.6h-12.6zM1122.8 347.3h12.6v12.6h-12.6zM1137.9 350.5h12.6v12.6h-12.6zM1153 355.9h12.6v12.6h-12.6zM1167.6 362.4h12.6v12.6h-12.6zM1182.5 368.8h12.6v12.6h-12.6zM1197.2 375.3h12.6v12.6h-12.6zM1212.2 386.1h12.6v12.6h-12.6zM1227.3 391.5h12.6v12.6h-12.6zM1242.4 402.3h12.6v12.6h-12.6zM1257.4 419.6h12.6v12.6h-12.6z" fill="#00FF00" stroke="none"/><path d="M726 111C728.5 113.17 735.07 118.35 741 124C746.93 129.65 755.1 138.4 761.6 144.9C768.1 151.4 773.05 156.05 780 163C786.95 169.95 794.22 177.77 803.3 186.6C812.38 195.43 827.55 208.6 834.5 216C841.45 223.4 839.75 224 845 231C850.25 238 859.08 249.83 866 258C872.92 266.17 879.67 272.17 886.5 280C893.33 287.83 900.05 296.42 907 305C913.95 313.58 923.08 325 928.2 331.5C933.32 338 934.07 339.67 937.7 344C941.33 348.33 944.65 351.83 950 357.5C955.35 363.17 963.05 371 969.8 378C976.55 385 983.8 393.17 990.5 399.5C997.2 405.83 1002.97 410.47 1010 416C1017.03 421.53 1023.38 426.03 1032.7 432.7C1042.02 439.37 1054.68 448.7 1065.9 456C1077.12 463.3 1088.05 470.6 1100 476.5C1111.95 482.4 1127.37 487.33 1137.6 491.4C1147.83 495.47 1153.47 498.13 1161.4 500.9C1169.33 503.67 1177.27 505.82 1185.2 508C1193.13 510.18 1201.87 512.22 1209 514C1216.13 515.78 1224.83 517.92 1228 518.7" fill="none" stroke="#0000FF" stroke-width="3.6" stroke-linejoin="round"/><path d="M726 225C731.93 231.65 748.72 250.95 761.6 264.9C774.48 278.85 791.15 296.52 803.3 308.7C815.45 320.88 827.57 331.78 834.5 338C841.43 344.22 836.23 339 844.9 346C853.57 353 872.62 369.83 886.5 380C900.38 390.17 914.32 399.5 928.2 407C942.08 414.5 957.83 420 969.8 425C981.77 430 989.45 433 1000 437C1010.55 441 1020.4 445.25 1033.1 449C1045.8 452.75 1066.72 456.9 1076.2 459.5C1085.68 462.1 1083.73 462.85 1090 464.6C1096.27 466.35 1105.87 468.32 1113.8 470C1121.73 471.68 1129.67 473.32 1137.6 474.7C1145.53 476.08 1153.47 477.2 1161.4 478.3C1169.33 479.4 1177.27 480.42 1185.2 481.3C1193.13 482.18 1201.87 482.82 1209 483.6C1216.13 484.38 1224.83 485.6 1228 486" fill="none" stroke="#FF00FF" stroke-width="3.6" stroke-linejoin="round"/><path d="M726 78.5C731.03 80.87 745.95 87.38 756.2 92.7C766.45 98.02 777.08 104.52 787.5 110.4C797.92 116.28 810.03 122.57 818.7 128C827.37 133.43 832.45 136.83 839.5 143C846.55 149.17 855.25 158.33 861 165C866.75 171.67 869.17 176.67 874 183C878.83 189.33 884.45 196.28 890 203C895.55 209.72 900.97 215.47 907.3 223.3C913.63 231.13 921.05 240.98 928 250C934.95 259.02 942 268.4 949 277.4C956 286.4 963.17 294.9 970 304C976.83 313.1 983.07 322.67 990 332C996.93 341.33 1004.42 350.3 1011.6 360C1018.78 369.7 1026.63 381.03 1033.1 390.2C1039.57 399.37 1044.25 407.03 1050.4 415C1056.55 422.97 1063.4 431.22 1070 438C1076.6 444.78 1082.7 449.58 1090 455.7C1097.3 461.82 1105.87 467.97 1113.8 474.7C1121.73 481.43 1129.67 489.75 1137.6 496.1C1145.53 502.45 1153.47 507.63 1161.4 512.8C1169.33 517.97 1177.27 522.35 1185.2 527.1C1193.13 531.85 1200.48 537.15 1209 541.3C1217.52 545.45 1227.8 549.22 1236.3 552C1244.8 554.78 1256.05 557 1260 558" fill="none" stroke="#FF0000" stroke-width="3.8" stroke-linejoin="round"/><path d="M726 91.5C731.03 92.57 745.95 94.93 756.2 97.9C766.45 100.87 777.08 105.65 787.5 109.3C797.92 112.95 810.03 116.5 818.7 119.8C827.37 123.1 831.78 125.07 839.5 129.1C847.22 133.13 856.13 138.3 865 144C873.87 149.7 882.63 155.72 892.7 163.3C902.77 170.88 916.02 180.88 925.4 189.5C934.78 198.12 939.87 204.85 949 215C958.13 225.15 971.7 239.65 980.2 250.4C988.7 261.15 994.77 272 1000 279.5C1005.23 287 1006.27 287.72 1011.6 295.4C1016.93 303.08 1024.82 314.83 1032 325.6C1039.18 336.37 1047.33 348.5 1054.7 360C1062.07 371.5 1069.52 384.6 1076.2 394.6C1082.88 404.6 1088.53 411.2 1094.8 420C1101.07 428.8 1106.67 437.48 1113.8 447.4C1120.93 457.32 1129.67 469.2 1137.6 479.5C1145.53 489.8 1153.47 500.28 1161.4 509.2C1169.33 518.12 1178.07 525.87 1185.2 533C1192.33 540.13 1200.07 547.83 1204.2 552C1208.33 556.17 1209.03 557 1210 558" fill="none" stroke="#00FF00" stroke-width="3.6" stroke-linejoin="round"/></g><line x1="801.2" y1="178.2" x2="912.5" y2="124.5" stroke="#0000FF" stroke-width="2" stroke-linecap="butt"/><line x1="901.1" y1="215.7" x2="999" y2="164.6" stroke="#FF0000" stroke-width="2" stroke-linecap="butt"/><line x1="1031" y1="218.4" x2="1071.9" y2="186.7" stroke="#FF0080" stroke-width="2" stroke-linecap="butt"/><line x1="1052.5" y1="277" x2="1110.7" y2="241.5" stroke="#000000" stroke-width="2" stroke-linecap="butt"/><text transform="translate(918.6,127.7) scale(0.94,1)" font-family='"Liberation Sans", sans-serif' font-size="35.5" fill="#0000FF" word-spacing="-3.8">9.2 K</text><text transform="translate(991.6,169.5) scale(0.94,1)" font-family='"Liberation Sans", sans-serif' font-size="35.5" fill="#FF0000" word-spacing="-3.8">11 K</text><text transform="translate(1073.5,188.2) scale(0.94,1)" font-family='"Liberation Sans", sans-serif' font-size="35.5" fill="#FF0080" word-spacing="-3.8">19 K</text><text transform="translate(1107,246.4) scale(0.94,1)" font-family='"Liberation Sans", sans-serif' font-size="35.5" fill="#000000" word-spacing="-3.8">15 K</text><rect x="1001" y="297" width="55" height="27" fill="#fff"/><text transform="translate(1001.7,320.8) scale(0.94,1)" font-family='"Liberation Sans", sans-serif' font-size="27.73" fill="#00FF00" word-spacing="-2.97">13 K</text><text transform="translate(1194.6,329.2) scale(0.94,1)" font-family='"Liberation Sans", sans-serif' font-size="35.5" fill="#FF8000" word-spacing="-3.8">33 K</text><text transform="translate(1142.3,411.4) scale(0.94,1)" font-family='"Liberation Sans", sans-serif' font-size="35.5" fill="#00FF00" word-spacing="-3.8">43 K</text><text transform="translate(738.6,348.2) scale(0.94,1)" font-family='"Liberation Sans", sans-serif' font-size="35.5" fill="#FF00FF" word-spacing="-3.8">7.2 K</text><text transform="translate(783.1,445.7) scale(0.94,1)" font-family='"Liberation Sans", sans-serif' font-size="35.5" fill="#008000" word-spacing="-3.8">4.8 K</text><text x="1198.2" y="121" font-family='"Liberation Sans", sans-serif' font-size="38" fill="#000000" text-anchor="start">(b)</text><g clip-path="url(#cc)"><path d="M117.35 904.7h15.5M125.1 896.95v15.5M117.58 897.18l15.04 15.04M117.58 912.22l15.04 -15.04M133.47 918.9h15.5M141.22 911.15v15.5M133.7 911.38l15.04 15.04M133.7 926.42l15.04 -15.04M149.59 932.9h15.5M157.34 925.15v15.5M149.82 925.38l15.04 15.04M149.82 940.42l15.04 -15.04M165.71 946.4h15.5M173.46 938.65v15.5M165.94 938.88l15.04 15.04M165.94 953.92l15.04 -15.04M181.83 959.5h15.5M189.58 951.75v15.5M182.06 951.98l15.04 15.04M182.06 967.02l15.04 -15.04M197.95 972.4h15.5M205.7 964.65v15.5M198.18 964.88l15.04 15.04M198.18 979.92l15.04 -15.04M214.07 986.6h15.5M221.82 978.85v15.5M214.3 979.08l15.04 15.04M214.3 994.12l15.04 -15.04M230.19 999.1h15.5M237.94 991.35v15.5M230.42 991.58l15.04 15.04M230.42 1006.62l15.04 -15.04M246.31 1011.6h15.5M254.06 1003.85v15.5M246.54 1004.08l15.04 15.04M246.54 1019.12l15.04 -15.04M262.43 1021.4h15.5M270.18 1013.65v15.5M262.66 1013.88l15.04 15.04M262.66 1028.92l15.04 -15.04M278.55 1033.9h15.5M286.3 1026.15v15.5M278.78 1026.38l15.04 15.04M278.78 1041.42l15.04 -15.04M294.67 1046.3h15.5M302.42 1038.55v15.5M294.9 1038.78l15.04 15.04M294.9 1053.82l15.04 -15.04M310.79 1055.7h15.5M318.54 1047.95v15.5M311.02 1048.18l15.04 15.04M311.02 1063.22l15.04 -15.04M326.91 1063.6h15.5M334.66 1055.85v15.5M327.14 1056.08l15.04 15.04M327.14 1071.12l15.04 -15.04M343.03 1074.4h15.5M350.78 1066.65v15.5M343.26 1066.88l15.04 15.04M343.26 1081.92l15.04 -15.04M359.15 1086h15.5M366.9 1078.25v15.5M359.38 1078.48l15.04 15.04M359.38 1093.52l15.04 -15.04" fill="none" stroke="#800000" stroke-width="2.4" stroke-linejoin="round" stroke-linecap="round"/><path d="M125.1 769.5L132.25 756.5L117.95 756.5zM141.22 773L148.37 760L134.07 760zM157.34 776.5L164.49 763.5L150.19 763.5zM173.46 788.4L180.61 775.4L166.31 775.4zM189.58 798.8L196.73 785.8L182.43 785.8zM205.7 810.2L212.85 797.2L198.55 797.2zM221.82 817.5L228.97 804.5L214.67 804.5zM237.94 822.7L245.09 809.7L230.79 809.7zM254.06 830L261.21 817L246.91 817zM270.18 834.2L277.33 821.2L263.03 821.2zM286.3 842.5L293.45 829.5L279.15 829.5zM302.42 855L309.57 842L295.27 842zM318.54 867.5L325.69 854.5L311.39 854.5zM334.66 881L341.81 868L327.51 868zM350.78 896.6L357.93 883.6L343.63 883.6zM366.9 912.2L374.05 899.2L359.75 899.2zM383.02 926.8L390.17 913.8L375.87 913.8zM399.14 940.8L406.29 927.8L391.99 927.8zM415.26 955.3L422.41 942.3L408.11 942.3zM431.38 970.4L438.53 957.4L424.23 957.4zM447.5 985.1L454.65 972.1L440.35 972.1zM463.62 999.5L470.77 986.5L456.47 986.5zM479.74 1014.6L486.89 1001.6L472.59 1001.6zM495.86 1014.6L503.01 1001.6L488.71 1001.6zM511.98 1029.7L519.13 1016.7L504.83 1016.7zM528.1 1045.4L535.25 1032.4L520.95 1032.4z" fill="none" stroke="#008000" stroke-width="2.45" stroke-linejoin="round" stroke-linecap="butt"/><path d="M125.1 733.2L132.6 740.7L125.1 748.2L117.6 740.7zM141.22 744.7L148.72 752.2L141.22 759.7L133.72 752.2zM157.34 753L164.84 760.5L157.34 768L149.84 760.5zM173.46 755.1L180.96 762.6L173.46 770.1L165.96 762.6zM189.58 754L197.08 761.5L189.58 769L182.08 761.5zM205.7 754L213.2 761.5L205.7 769L198.2 761.5zM221.82 751.9L229.32 759.4L221.82 766.9L214.32 759.4zM237.94 756.5L245.44 764L237.94 771.5L230.44 764zM254.06 761L261.56 768.5L254.06 776L246.56 768.5zM270.18 768.1L277.68 775.6L270.18 783.1L262.68 775.6zM286.3 780.6L293.8 788.1L286.3 795.6L278.8 788.1zM302.42 792.1L309.92 799.6L302.42 807.1L294.92 799.6zM318.54 801.4L326.04 808.9L318.54 816.4L311.04 808.9zM334.66 806.6L342.16 814.1L334.66 821.6L327.16 814.1zM350.78 808.7L358.28 816.2L350.78 823.7L343.28 816.2zM366.9 810.8L374.4 818.3L366.9 825.8L359.4 818.3zM383.02 812.9L390.52 820.4L383.02 827.9L375.52 820.4zM399.14 818L406.64 825.5L399.14 833L391.64 825.5zM415.26 821.9L422.76 829.4L415.26 836.9L407.76 829.4zM431.38 829L438.88 836.5L431.38 844L423.88 836.5zM447.5 839.2L455 846.7L447.5 854.2L440 846.7zM463.62 852.1L471.12 859.6L463.62 867.1L456.12 859.6zM479.74 866.8L487.24 874.3L479.74 881.8L472.24 874.3zM495.86 880.8L503.36 888.3L495.86 895.8L488.36 888.3zM511.98 895.2L519.48 902.7L511.98 910.2L504.48 902.7zM528.1 911L535.6 918.5L528.1 926L520.6 918.5zM544.22 930.5L551.72 938L544.22 945.5L536.72 938zM560.34 943L567.84 950.5L560.34 958L552.84 950.5zM576.46 960.5L583.96 968L576.46 975.5L568.96 968zM592.58 982.5L600.08 990L592.58 997.5L585.08 990zM608.7 1004.3L616.2 1011.8L608.7 1019.3L601.2 1011.8zM624.82 1008.1L632.32 1015.6L624.82 1023.1L617.32 1015.6zM640.94 1022.2L648.44 1029.7L640.94 1037.2L633.44 1029.7z" fill="none" stroke="#FF8000" stroke-width="2.4" stroke-linejoin="miter" stroke-linecap="butt"/><path d="M125.1 609.3L132.25 622.3L117.95 622.3zM141.22 638.5L148.37 651.5L134.07 651.5zM157.34 663.5L164.49 676.5L150.19 676.5zM173.46 687.4L180.61 700.4L166.31 700.4zM189.58 708.2L196.73 721.2L182.43 721.2zM205.7 724.8L212.85 737.8L198.55 737.8zM221.82 737.3L228.97 750.3L214.67 750.3zM237.94 743.6L245.09 756.6L230.79 756.6zM254.06 745.7L261.21 758.7L246.91 758.7zM270.18 745.7L277.33 758.7L263.03 758.7zM286.3 745.7L293.45 758.7L279.15 758.7zM302.42 747.7L309.57 760.7L295.27 760.7zM318.54 754L325.69 767L311.39 767zM334.66 761L341.81 774L327.51 774zM350.78 770.5L357.93 783.5L343.63 783.5zM366.9 786.8L374.05 799.8L359.75 799.8zM383.02 798.3L390.17 811.3L375.87 811.3zM399.14 804.5L406.29 817.5L391.99 817.5zM415.26 805.2L422.41 818.2L408.11 818.2zM431.38 808.5L438.53 821.5L424.23 821.5zM447.5 806.3L454.65 819.3L440.35 819.3zM463.62 809.6L470.77 822.6L456.47 822.6zM479.74 810.6L486.89 823.6L472.59 823.6zM495.86 813.9L503.01 826.9L488.71 826.9zM511.98 820.3L519.13 833.3L504.83 833.3zM528.1 829L535.25 842L520.95 842zM544.22 838.7L551.37 851.7L537.07 851.7zM560.34 851.6L567.49 864.6L553.19 864.6zM576.46 862.4L583.61 875.4L569.31 875.4zM592.58 878.5L599.73 891.5L585.43 891.5zM608.7 898.5L615.85 911.5L601.55 911.5zM624.82 917.5L631.97 930.5L617.67 930.5zM640.94 927.5L648.09 940.5L633.79 940.5z" fill="none" stroke="#00FF00" stroke-width="2.45" stroke-linejoin="round" stroke-linecap="butt"/><path d="M117.85 567.75l14.5 14.5M117.85 582.25l14.5 -14.5M133.97 577.75l14.5 14.5M133.97 592.25l14.5 -14.5M150.09 584.75l14.5 14.5M150.09 599.25l14.5 -14.5M166.21 597.15l14.5 14.5M166.21 611.65l14.5 -14.5M182.33 611.75l14.5 14.5M182.33 626.25l14.5 -14.5M198.45 640.75l14.5 14.5M198.45 655.25l14.5 -14.5M214.57 669.95l14.5 14.5M214.57 684.45l14.5 -14.5M230.69 691.85l14.5 14.5M230.69 706.35l14.5 -14.5M246.81 710.55l14.5 14.5M246.81 725.05l14.5 -14.5M262.93 725.15l14.5 14.5M262.93 739.65l14.5 -14.5M279.05 733.45l14.5 14.5M279.05 747.95l14.5 -14.5M295.17 737.65l14.5 14.5M295.17 752.15l14.5 -14.5M311.29 738.65l14.5 14.5M311.29 753.15l14.5 -14.5M327.41 738.65l14.5 14.5M327.41 753.15l14.5 -14.5M343.53 739.75l14.5 14.5M343.53 754.25l14.5 -14.5M359.65 742.85l14.5 14.5M359.65 757.35l14.5 -14.5M375.77 751.15l14.5 14.5M375.77 765.65l14.5 -14.5M391.89 761.35l14.5 14.5M391.89 775.85l14.5 -14.5M408.01 777.55l14.5 14.5M408.01 792.05l14.5 -14.5M424.13 791.15l14.5 14.5M424.13 805.65l14.5 -14.5M440.25 801.25l14.5 14.5M440.25 815.75l14.5 -14.5M456.37 805.55l14.5 14.5M456.37 820.05l14.5 -14.5M472.49 807.75l14.5 14.5M472.49 822.25l14.5 -14.5M488.61 808.85l14.5 14.5M488.61 823.35l14.5 -14.5M504.73 809.85l14.5 14.5M504.73 824.35l14.5 -14.5M520.85 811.35l14.5 14.5M520.85 825.85l14.5 -14.5M536.97 813.15l14.5 14.5M536.97 827.65l14.5 -14.5M553.09 816.35l14.5 14.5M553.09 830.85l14.5 -14.5M569.21 819.55l14.5 14.5M569.21 834.05l14.5 -14.5M585.33 826.05l14.5 14.5M585.33 840.55l14.5 -14.5M601.45 837.25l14.5 14.5M601.45 851.75l14.5 -14.5M617.57 849.75l14.5 14.5M617.57 864.25l14.5 -14.5M633.69 862.25l14.5 14.5M633.69 876.75l14.5 -14.5" fill="none" stroke="#FF00FF" stroke-width="2.4" stroke-linejoin="round" stroke-linecap="round"/><path d="M199.95 582a5.75 5.75 0 1 0 11.5 0a5.75 5.75 0 1 0 -11.5 0zM216.07 608.5a5.75 5.75 0 1 0 11.5 0a5.75 5.75 0 1 0 -11.5 0zM232.19 634.6a5.75 5.75 0 1 0 11.5 0a5.75 5.75 0 1 0 -11.5 0zM248.31 660.6a5.75 5.75 0 1 0 11.5 0a5.75 5.75 0 1 0 -11.5 0zM264.43 682.4a5.75 5.75 0 1 0 11.5 0a5.75 5.75 0 1 0 -11.5 0zM280.55 702.6a5.75 5.75 0 1 0 11.5 0a5.75 5.75 0 1 0 -11.5 0zM296.67 718.2a5.75 5.75 0 1 0 11.5 0a5.75 5.75 0 1 0 -11.5 0zM312.79 728.6a5.75 5.75 0 1 0 11.5 0a5.75 5.75 0 1 0 -11.5 0zM328.91 734a5.75 5.75 0 1 0 11.5 0a5.75 5.75 0 1 0 -11.5 0zM345.03 736.1a5.75 5.75 0 1 0 11.5 0a5.75 5.75 0 1 0 -11.5 0zM361.15 737a5.75 5.75 0 1 0 11.5 0a5.75 5.75 0 1 0 -11.5 0zM377.27 738.2a5.75 5.75 0 1 0 11.5 0a5.75 5.75 0 1 0 -11.5 0zM393.39 741a5.75 5.75 0 1 0 11.5 0a5.75 5.75 0 1 0 -11.5 0zM409.51 748.1a5.75 5.75 0 1 0 11.5 0a5.75 5.75 0 1 0 -11.5 0zM425.63 759.3a5.75 5.75 0 1 0 11.5 0a5.75 5.75 0 1 0 -11.5 0zM441.75 772a5.75 5.75 0 1 0 11.5 0a5.75 5.75 0 1 0 -11.5 0zM457.87 788a5.75 5.75 0 1 0 11.5 0a5.75 5.75 0 1 0 -11.5 0zM473.99 800.5a5.75 5.75 0 1 0 11.5 0a5.75 5.75 0 1 0 -11.5 0zM490.11 807.9a5.75 5.75 0 1 0 11.5 0a5.75 5.75 0 1 0 -11.5 0zM506.23 812.8a5.75 5.75 0 1 0 11.5 0a5.75 5.75 0 1 0 -11.5 0zM522.35 817.8a5.75 5.75 0 1 0 11.5 0a5.75 5.75 0 1 0 -11.5 0zM538.47 820.4a5.75 5.75 0 1 0 11.5 0a5.75 5.75 0 1 0 -11.5 0zM554.59 822.5a5.75 5.75 0 1 0 11.5 0a5.75 5.75 0 1 0 -11.5 0zM570.71 822.5a5.75 5.75 0 1 0 11.5 0a5.75 5.75 0 1 0 -11.5 0zM586.83 822.5a5.75 5.75 0 1 0 11.5 0a5.75 5.75 0 1 0 -11.5 0zM602.95 825.3a5.75 5.75 0 1 0 11.5 0a5.75 5.75 0 1 0 -11.5 0zM619.07 826.8a5.75 5.75 0 1 0 11.5 0a5.75 5.75 0 1 0 -11.5 0zM635.19 830.7a5.75 5.75 0 1 0 11.5 0a5.75 5.75 0 1 0 -11.5 0z" fill="none" stroke="#0000FF" stroke-width="2.5" stroke-linejoin="round" stroke-linecap="butt"/><path d="M231.44 580h13M237.94 573.5v13M247.56 604.4h13M254.06 597.9v13M263.68 630.8h13M270.18 624.3v13M279.8 655.8h13M286.3 649.3v13M295.92 678.7h13M302.42 672.2v13M312.04 698.5h13M318.54 692v13M328.16 713h13M334.66 706.5v13M344.28 720.3h13M350.78 713.8v13M360.4 724.5h13M366.9 718v13M376.52 725.7h13M383.02 719.2v13M392.64 727.1h13M399.14 720.6v13M408.76 729.1h13M415.26 722.6v13M424.88 734.1h13M431.38 727.6v13M441 741.6h13M447.5 735.1v13M457.12 753.5h13M463.62 747v13M473.24 767.5h13M479.74 761v13M489.36 783.3h13M495.86 776.8v13M505.48 795.6h13M511.98 789.1v13M521.6 804.2h13M528.1 797.7v13M537.72 810h13M544.22 803.5v13M553.84 813.9h13M560.34 807.4v13M569.96 817.1h13M576.46 810.6v13M586.08 818.6h13M592.58 812.1v13M602.2 819.3h13M608.7 812.8v13M618.32 820.4h13M624.82 813.9v13M634.44 820.8h13M640.94 814.3v13" fill="none" stroke="#FF0000" stroke-width="2.4" stroke-linejoin="round" stroke-linecap="round"/><path d="M297.42 592h10v10h-10zM313.54 616h10v10h-10zM329.66 641h10v10h-10zM345.78 663.9h10v10h-10zM361.9 684.7h10v10h-10zM378.02 699.3h10v10h-10zM394.14 706.5h10v10h-10zM410.26 708.6h10v10h-10zM426.38 708.6h10v10h-10zM442.5 708.6h10v10h-10zM458.62 710.7h10v10h-10zM474.74 717.6h10v10h-10zM490.86 729.1h10v10h-10zM506.98 744.2h10v10h-10zM523.1 760.4h10v10h-10zM539.22 774h10v10h-10zM555.34 785.6h10v10h-10zM571.46 794.9h10v10h-10zM587.58 801.4h10v10h-10zM603.7 810h10v10h-10zM619.82 813.2h10v10h-10zM635.94 813.6h10v10h-10z" fill="none" stroke="#000000" stroke-width="2.2" stroke-linejoin="miter" stroke-linecap="butt"/><path d="M305 592C306.08 593.88 307.63 596.73 311.5 603.3C315.37 609.87 321.95 621.33 328.2 631.4C334.45 641.47 342.07 654.15 349 663.7C355.93 673.25 362.87 681.77 369.8 688.7C376.73 695.63 383.63 701.68 390.6 705.3C397.57 708.92 404.52 709.38 411.6 710.4C418.68 711.42 425.92 710.52 433.1 711.4C440.28 712.28 447.52 713.72 454.7 715.7C461.88 717.68 469.02 719.7 476.2 723.3C483.38 726.9 490.6 731.73 497.8 737.3C505 742.87 512.22 750.4 519.4 756.7C526.58 763 533.72 769.52 540.9 775.1C548.08 780.68 555.32 785.53 562.5 790.2C569.68 794.87 576.82 799.52 584 803.1C591.18 806.68 599.12 809.72 605.6 811.7C612.08 813.68 617.83 815.17 622.9 815C627.97 814.83 633.82 811.42 636 810.7" fill="none" stroke="#000000" stroke-width="3.3" stroke-linejoin="round"/><path d="M124 609C124.37 609.78 122.37 607.03 126.2 613.7C130.03 620.37 142.65 641.02 147 649C151.35 656.98 148.13 654.3 152.3 661.6C156.47 668.9 165.23 682.73 172 692.8C178.77 702.87 185.95 713.67 192.9 722C199.85 730.33 206.77 737.25 213.7 742.8C220.63 748.35 227.57 752.35 234.5 755.3C241.43 758.25 248.37 759.38 255.3 760.5C262.23 761.62 269.17 761.08 276.1 762C283.03 762.92 289.95 764.5 296.9 766C303.85 767.5 312.58 769.33 317.8 771C323.02 772.67 321.27 772.12 328.2 776C335.13 779.88 350.73 788.98 359.4 794.3C368.07 799.62 373.43 804.53 380.2 807.9C386.97 811.27 394.77 812.65 400 814.5C405.23 816.35 406.08 817.67 411.6 819C417.12 820.33 425.92 822.1 433.1 822.5C440.28 822.9 447.52 821.75 454.7 821.4C461.88 821.05 469.02 820.22 476.2 820.4C483.38 820.58 490.6 820.7 497.8 822.5C505 824.3 512.22 827.78 519.4 831.2C526.58 834.62 533.72 838.33 540.9 843C548.08 847.67 557.1 854.35 562.5 859.2C567.9 864.05 567.88 866.13 573.3 872.1C578.72 878.07 587.82 887.08 595 895C602.18 902.92 609.23 911.35 616.4 919.6C623.57 927.85 628.57 934.18 638 944.5C647.43 954.82 667.17 975.33 673 981.5" fill="none" stroke="#000000" stroke-width="3.3" stroke-linejoin="round"/><path d="M125.5 761.5C131.52 763.68 148.63 768.25 161.6 774.6C174.57 780.95 189.42 791.97 203.3 799.6C217.18 807.23 231.03 813.47 244.9 820.4C258.77 827.33 272.62 833.57 286.5 841.2C300.38 848.83 314.32 855.8 328.2 866.2C342.08 876.6 357.83 892.85 369.8 903.6C381.77 914.35 389.45 922.08 400 930.7C410.55 939.32 423.98 947.62 433.1 955.3C442.22 962.98 447.52 969.62 454.7 976.8C461.88 983.98 469.02 991.03 476.2 998.4C483.38 1005.77 490.6 1013.1 497.8 1021C505 1028.9 511.2 1036.3 519.4 1045.8C527.6 1055.3 542.4 1072.63 547 1078" fill="none" stroke="#000000" stroke-width="3.3" stroke-linejoin="round"/></g><line x1="309.4" y1="678.7" x2="359.4" y2="641.8" stroke="#FF0000" stroke-width="2" stroke-linecap="butt"/><line x1="447.1" y1="770.7" x2="514" y2="719" stroke="#0000FF" stroke-width="2" stroke-linecap="butt"/><line x1="231.1" y1="805.3" x2="237.82" y2="784.9" stroke="#FF8000" stroke-width="4" stroke-linecap="butt"/><path d="M244.7 764L243.84 788.99L230.54 784.61z" fill="#FF8000"/><line x1="392.2" y1="870.5" x2="398.87" y2="852.17" stroke="#FF8000" stroke-width="4" stroke-linecap="butt"/><path d="M406.4 831.5L404.77 856.45L391.61 851.66z" fill="#FF8000"/><circle cx="264" cy="801" r="18.5" fill="none" stroke="#000" stroke-width="2"/><text x="263.2" y="813.4" font-family='"Liberation Serif", serif' font-size="38.5" fill="#000000" text-anchor="middle" font-style="italic">I</text><circle cx="423.7" cy="873.5" r="19.2" fill="none" stroke="#000" stroke-width="2.2"/><text x="423" y="885.8" font-family='"Liberation Serif", serif' font-size="38.5" fill="#000000" text-anchor="middle" font-style="italic">II</text><rect x="147" y="620" width="91" height="39" fill="#fff"/><text transform="translate(150.3,652.2) scale(0.94,1)" font-family='"Liberation Sans", sans-serif' font-size="35.5" fill="#FF00FF" word-spacing="-3.8">185 K</text><text transform="translate(363.6,650.2) scale(0.94,1)" font-family='"Liberation Sans", sans-serif' font-size="35.5" fill="#FF0000" word-spacing="-3.8">245 K</text><text transform="translate(413.9,696.3) scale(0.94,1)" font-family='"Liberation Sans", sans-serif' font-size="35.5" fill="#000000" word-spacing="-3.8">297 K</text><text transform="translate(516.3,724.4) scale(0.94,1)" font-family='"Liberation Sans", sans-serif' font-size="35.5" fill="#0000FF" word-spacing="-3.8">215 K</text><rect x="541" y="874" width="93" height="44" fill="#fff"/><text transform="translate(546.5,907.7) scale(0.94,1)" font-family='"Liberation Sans", sans-serif' font-size="35.5" fill="#00FF00" word-spacing="-3.8">155 K</text><rect x="530" y="955" width="92" height="40" fill="#fff"/><text transform="translate(534.2,986.5) scale(0.94,1)" font-family='"Liberation Sans", sans-serif' font-size="35.5" fill="#FF8000" word-spacing="-3.8">125 K</text><text transform="translate(374.6,1005.9) scale(0.94,1)" font-family='"Liberation Sans", sans-serif' font-size="35.5" fill="#008000" word-spacing="-3.8">95 K</text><text transform="translate(250.2,999.9) scale(0.94,1)" font-family='"Liberation Sans", sans-serif' font-size="35.5" fill="#800080" word-spacing="-3.8">65 K</text><text x="610.5" y="645.6" font-family='"Liberation Sans", sans-serif' font-size="38" fill="#000000" text-anchor="start">(c)</text><g clip-path="url(#cd)"><path d="M735.05 866.6a5.75 5.75 0 1 0 11.5 0a5.75 5.75 0 1 0 -11.5 0zM747.95 870.3a5.75 5.75 0 1 0 11.5 0a5.75 5.75 0 1 0 -11.5 0zM761.75 836a5.75 5.75 0 1 0 11.5 0a5.75 5.75 0 1 0 -11.5 0zM774.65 804.8a5.75 5.75 0 1 0 11.5 0a5.75 5.75 0 1 0 -11.5 0zM788.15 792.3a5.75 5.75 0 1 0 11.5 0a5.75 5.75 0 1 0 -11.5 0zM801.25 804.8a5.75 5.75 0 1 0 11.5 0a5.75 5.75 0 1 0 -11.5 0zM814.55 791.2a5.75 5.75 0 1 0 11.5 0a5.75 5.75 0 1 0 -11.5 0zM827.65 764.2a5.75 5.75 0 1 0 11.5 0a5.75 5.75 0 1 0 -11.5 0zM841.25 729.3a5.75 5.75 0 1 0 11.5 0a5.75 5.75 0 1 0 -11.5 0zM854.35 720.9a5.75 5.75 0 1 0 11.5 0a5.75 5.75 0 1 0 -11.5 0zM867.85 725.1a5.75 5.75 0 1 0 11.5 0a5.75 5.75 0 1 0 -11.5 0zM880.75 719.5a5.75 5.75 0 1 0 11.5 0a5.75 5.75 0 1 0 -11.5 0zM894.35 707a5.75 5.75 0 1 0 11.5 0a5.75 5.75 0 1 0 -11.5 0zM906.75 744.9a5.75 5.75 0 1 0 11.5 0a5.75 5.75 0 1 0 -11.5 0zM920.35 793.3a5.75 5.75 0 1 0 11.5 0a5.75 5.75 0 1 0 -11.5 0zM933.85 794.3a5.75 5.75 0 1 0 11.5 0a5.75 5.75 0 1 0 -11.5 0zM960.25 792.3a5.75 5.75 0 1 0 11.5 0a5.75 5.75 0 1 0 -11.5 0zM973.45 841.2a5.75 5.75 0 1 0 11.5 0a5.75 5.75 0 1 0 -11.5 0zM986.55 883.9a5.75 5.75 0 1 0 11.5 0a5.75 5.75 0 1 0 -11.5 0zM1000.45 910.9a5.75 5.75 0 1 0 11.5 0a5.75 5.75 0 1 0 -11.5 0zM1012.25 915.2a5.75 5.75 0 1 0 11.5 0a5.75 5.75 0 1 0 -11.5 0z" fill="none" stroke="#0000FF" stroke-width="2.5" stroke-linejoin="round" stroke-linecap="butt"/><path d="M740.8 764.5L747.95 777.5L733.65 777.5zM754.3 801.4L761.45 814.4L747.15 814.4zM767.9 784.7L775.05 797.7L760.75 797.7zM780.4 794.1L787.55 807.1L773.25 807.1zM792.9 835.7L800.05 848.7L785.75 848.7zM807 863.8L814.15 876.8L799.85 876.8zM819.5 881.5L826.65 894.5L812.35 894.5zM833.4 888.8L840.55 901.8L826.25 901.8zM847.4 881.5L854.55 894.5L840.25 894.5zM860.5 903.8L867.65 916.8L853.35 916.8zM873.5 924L880.65 937L866.35 937zM886.5 944.7L893.65 957.7L879.35 957.7zM900.1 929L907.25 942L892.95 942zM912.5 971.8L919.65 984.8L905.35 984.8zM926.1 1015.5L933.25 1028.5L918.95 1028.5zM939.6 1011.3L946.75 1024.3L932.45 1024.3zM953.1 1022.8L960.25 1035.8L945.95 1035.8zM966.7 986.4L973.85 999.4L959.55 999.4zM979.2 1015.5L986.35 1028.5L972.05 1028.5zM993.5 1040L1000.65 1053L986.35 1053zM1006.2 1055.8L1013.35 1068.8L999.05 1068.8zM1020.2 1045L1027.35 1058L1013.05 1058z" fill="none" stroke="#FF00FF" stroke-width="2.45" stroke-linejoin="round" stroke-linecap="butt"/><path d="M767.9 962.9L775.05 949.9L760.75 949.9zM780.4 933L787.55 920L773.25 920zM793 947.5L800.15 934.5L785.85 934.5zM807 947.5L814.15 934.5L799.85 934.5zM820.5 930.5L827.65 917.5L813.35 917.5zM833.4 904.9L840.55 891.9L826.25 891.9zM846.6 856L853.75 843L839.45 843zM860.1 844.6L867.25 831.6L852.95 831.6zM873 827.9L880.15 814.9L865.85 814.9zM886.5 805L893.65 792L879.35 792zM900.1 754.5L907.25 741.5L892.95 741.5zM913.6 756.6L920.75 743.6L906.45 743.6zM927.1 761.8L934.25 748.8L919.95 748.8zM939.6 723.3L946.75 710.3L932.45 710.3zM953.1 704.5L960.25 691.5L945.95 691.5zM966.7 648.3L973.85 635.3L959.55 635.3zM980.2 668.1L987.35 655.1L973.05 655.1zM993 690L1000.15 677L985.85 677zM1007.2 707.1L1014.35 694.1L1000.05 694.1zM1020.2 712.5L1027.35 699.5L1013.05 699.5z" fill="none" stroke="#FF0000" stroke-width="2.45" stroke-linejoin="round" stroke-linecap="butt"/><path d="M793.9 1022.2L800.65 1027.11L798.07 1035.04L789.73 1035.04L787.15 1027.11zM807 1024.3L813.75 1029.21L811.17 1037.14L802.83 1037.14L800.25 1029.21zM819.9 1014.9L826.65 1019.81L824.07 1027.74L815.73 1027.74L813.15 1019.81zM833.4 998.2L840.15 1003.11L837.57 1011.04L829.23 1011.04L826.65 1003.11zM847 958.7L853.75 963.61L851.17 971.54L842.83 971.54L840.25 963.61zM859.5 948.3L866.25 953.21L863.67 961.14L855.33 961.14L852.75 953.21zM873 935.8L879.75 940.71L877.17 948.64L868.83 948.64L866.25 940.71zM886.5 919.1L893.25 924.01L890.67 931.94L882.33 931.94L879.75 924.01zM900.1 871.6L906.85 876.51L904.27 884.44L895.93 884.44L893.35 876.51zM912.5 878.8L919.25 883.71L916.67 891.64L908.33 891.64L905.75 883.71zM926.1 886.1L932.85 891.01L930.27 898.94L921.93 898.94L919.35 891.01zM939.6 841.4L946.35 846.31L943.77 854.24L935.43 854.24L932.85 846.31zM953.1 811.2L959.85 816.11L957.27 824.04L948.93 824.04L946.35 816.11zM966.7 731.5L973.45 736.41L970.87 744.34L962.53 744.34L959.95 736.41zM979.2 724.2L985.95 729.11L983.37 737.04L975.03 737.04L972.45 729.11zM993 705.9L999.75 710.81L997.17 718.74L988.83 718.74L986.25 710.81zM1006.2 678.5L1012.95 683.41L1010.37 691.34L1002.03 691.34L999.45 683.41zM1019.1 632.1L1025.85 637.01L1023.27 644.94L1014.93 644.94L1012.35 637.01z" fill="none" stroke="#00FF00" stroke-width="2.5" stroke-linejoin="round" stroke-linecap="butt"/><path d="M852.25 1025.15l14.5 14.5M852.25 1039.65l14.5 -14.5M865.75 1017.85l14.5 14.5M865.75 1032.35l14.5 -14.5M879.25 1012.65l14.5 14.5M879.25 1027.15l14.5 -14.5M891.75 972.05l14.5 14.5M891.75 986.55l14.5 -14.5M905.25 982.45l14.5 14.5M905.25 996.95l14.5 -14.5M918.85 996.05l14.5 14.5M918.85 1010.55l14.5 -14.5M932.35 959.55l14.5 14.5M932.35 974.05l14.5 -14.5M945.85 930.25l14.5 14.5M945.85 944.75l14.5 -14.5M958.35 859.95l14.5 14.5M958.35 874.45l14.5 -14.5M971.95 854.75l14.5 14.5M971.95 869.25l14.5 -14.5M987.55 844.35l14.5 14.5M987.55 858.85l14.5 -14.5M998.95 818.55l14.5 14.5M998.95 833.05l14.5 -14.5M1012.95 763.55l14.5 14.5M1012.95 778.05l14.5 -14.5" fill="none" stroke="#000000" stroke-width="2.4" stroke-linejoin="round" stroke-linecap="round"/><path d="M1242 661.4a7 7 0 1 0 14 0a7 7 0 1 0 -14 0zM1234 705.4a7 7 0 1 0 14 0a7 7 0 1 0 -14 0zM1227 787.2a7 7 0 1 0 14 0a7 7 0 1 0 -14 0zM1219.3 821.5a7 7 0 1 0 14 0a7 7 0 1 0 -14 0zM1212 911.8a7 7 0 1 0 14 0a7 7 0 1 0 -14 0zM1204 935a7 7 0 1 0 14 0a7 7 0 1 0 -14 0zM1190 977.1a7 7 0 1 0 14 0a7 7 0 1 0 -14 0zM1196.5 982.3a7 7 0 1 0 14 0a7 7 0 1 0 -14 0zM1174.9 1005.2a7 7 0 1 0 14 0a7 7 0 1 0 -14 0zM1181.4 1009.5a7 7 0 1 0 14 0a7 7 0 1 0 -14 0zM1166.3 1041.8a7 7 0 1 0 14 0a7 7 0 1 0 -14 0z" fill="#FF8000" stroke="none"/><path d="M1257.1 736.7h12.6v12.6h-12.6zM1249.7 830.2h12.6v12.6h-12.6zM1242.7 909.2h12.6v12.6h-12.6zM1234.7 927.7h12.6v12.6h-12.6zM1226.5 975.4h12.6v12.6h-12.6zM1219.7 980.2h12.6v12.6h-12.6zM1204.7 1028.2h12.6v12.6h-12.6zM1211.7 1031.2h12.6v12.6h-12.6z" fill="#00FF00" stroke="none"/><path d="M726 907C728.33 903.63 734.07 896.3 740 886.8C745.93 877.3 755.15 860.3 761.6 850C768.05 839.7 771.75 834.28 778.7 825C785.65 815.72 796.87 802.03 803.3 794.3C809.73 786.57 811.73 784.12 817.3 778.6C822.87 773.08 830.42 765.38 836.7 761.2C842.98 757.02 848.57 755.27 855 753.5C861.43 751.73 869.47 750.85 875.3 750.6C881.13 750.35 885.17 750.88 890 752C894.83 753.12 899.83 754.97 904.3 757.3C908.77 759.63 911.97 762.38 916.8 766C921.63 769.62 927.72 773.78 933.3 779C938.88 784.22 944.68 790.9 950.3 797.3C955.92 803.7 961.42 810.13 967 817.4C972.58 824.67 978.2 833.08 983.8 840.9C989.4 848.72 996.42 858.12 1000.6 864.3C1004.78 870.48 1005.67 872.88 1008.9 878C1012.13 883.12 1013.45 884.95 1020 895C1026.55 905.05 1043.5 931.08 1048.2 938.3" fill="none" stroke="#0000FF" stroke-width="3.6" stroke-linejoin="round"/><path d="M726 797.5C731.93 800.62 748.72 807.18 761.6 816.2C774.48 825.22 789.42 838.42 803.3 851.6C817.18 864.78 834.85 883.9 844.9 895.3C854.95 906.7 856.67 911.72 863.6 920C870.53 928.28 875.73 933.2 886.5 945C897.27 956.8 914.32 976.58 928.2 990.8C942.08 1005.02 957.83 1018.6 969.8 1030.3C981.77 1042 991.97 1053.52 1000 1061C1008.03 1068.48 1015 1072.83 1018 1075.2" fill="none" stroke="#FF00FF" stroke-width="3.6" stroke-linejoin="round"/><path d="M753.3 1011.6C758.15 1004.32 774.42 979.83 782.4 967.9C790.38 955.97 794.25 952.45 801.2 940C808.15 927.55 816.82 907.93 824.1 893.2C831.38 878.47 837.97 864.43 844.9 851.6C851.83 838.77 858.42 828.8 865.7 816.2C872.98 803.6 882.88 785.85 888.6 776C894.32 766.15 895.3 764.43 900 757.1C904.7 749.77 911.22 739.27 916.8 732C922.38 724.73 927.92 718.53 933.5 713.5C939.08 708.47 944.72 704.58 950.3 701.8C955.88 699.02 961.42 697.5 967 696.8C972.58 696.1 978.2 696.48 983.8 697.6C989.4 698.72 995.02 700.02 1000.6 703.5C1006.18 706.98 1011.57 712.75 1017.3 718.5C1023.03 724.25 1029.13 731.08 1035 738C1040.87 744.92 1047.78 753.67 1052.5 760C1057.22 766.33 1057 765.58 1063.3 776C1069.6 786.42 1085.8 814.75 1090.3 822.5" fill="none" stroke="#FF0000" stroke-width="3.6" stroke-linejoin="round"/><path d="M786 1079C786.38 1078.45 784.7 1079.63 788.3 1075.7C791.9 1071.77 801.3 1063.08 807.6 1055.4C813.9 1047.72 819.95 1038.82 826.1 1029.6C832.25 1020.38 838.35 1010.55 844.5 1000.1C850.65 989.65 857.17 977.65 863 966.9C868.83 956.15 874.28 945.43 879.5 935.6C884.72 925.77 889.48 917.17 894.3 907.9C899.12 898.63 903.27 890.62 908.4 880C913.53 869.38 919.52 855.75 925.1 844.2C930.68 832.65 936.3 822.15 941.9 810.7C947.5 799.25 953.12 786.67 958.7 775.5C964.28 764.33 969.82 754.17 975.4 743.7C980.98 733.23 986.62 722.32 992.2 712.7C997.78 703.08 1002.08 693.75 1008.9 686C1015.72 678.25 1024.75 671.67 1033.1 666.2C1041.45 660.73 1051.08 655 1059 653.2C1066.92 651.4 1072.33 651.08 1080.6 655.4C1088.87 659.72 1103.93 675.15 1108.6 679.1" fill="none" stroke="#00FF00" stroke-width="3.6" stroke-linejoin="round"/><path d="M861.5 1053.2C867.4 1044.88 885.78 1019.25 896.9 1003.3C908.02 987.35 919.52 971.38 928.2 957.5C936.88 943.62 942.42 933.48 949 920C955.58 906.52 960.87 890.77 967.7 876.6C974.53 862.43 984.13 847.25 990 835C995.87 822.75 997.87 813.8 1002.9 803.1C1007.93 792.4 1015.17 781.05 1020.2 770.8C1025.23 760.55 1027.35 752.93 1033.1 741.6C1038.85 730.27 1046.43 716.1 1054.7 702.8C1062.97 689.5 1071.92 674.02 1082.7 661.8C1093.48 649.58 1113.28 634.88 1119.4 629.5" fill="none" stroke="#000000" stroke-width="2.8" stroke-linejoin="round" stroke-dasharray="7 5"/><path d="M1162.5 1066.6C1166.25 1056.33 1177.1 1026.1 1185 1005C1192.9 983.9 1203.73 964.17 1209.9 940C1216.07 915.83 1217.87 890 1222 860C1226.13 830 1230.53 790 1234.7 760C1238.87 730 1242.33 705.17 1247 680C1251.67 654.83 1260.08 620.83 1262.7 609" fill="none" stroke="#FF8000" stroke-width="2.8" stroke-linejoin="round" stroke-dasharray="7 5"/><path d="M1205.6 1073.1C1208.83 1060.92 1218.53 1025.52 1225 1000C1231.47 974.48 1239.9 945 1244.4 920C1248.9 895 1249.3 876.3 1252 850C1254.7 823.7 1257.37 788.17 1260.6 762.2C1263.83 736.23 1269.6 705.53 1271.4 694.2" fill="none" stroke="#00FF00" stroke-width="2.8" stroke-linejoin="round" stroke-dasharray="7 5"/></g><line x1="1172.2" y1="940.5" x2="1231.5" y2="980.4" stroke="#00FF00" stroke-width="2" stroke-linecap="butt"/><circle cx="1104.6" cy="738.4" r="23.7" fill="none" stroke="#000" stroke-width="2.3"/><text x="1103.3" y="750.7" font-family='"Liberation Serif", serif' font-size="38.5" fill="#000000" text-anchor="middle" font-style="italic">III</text><text x="745.4" y="645.6" font-family='"Liberation Sans", sans-serif' font-size="38" fill="#000000" text-anchor="start">(d)</text><text transform="translate(784,714.7) scale(0.94,1)" font-family='"Liberation Sans", sans-serif' font-size="35.5" fill="#0000FF" word-spacing="-3.8">9.2 K</text><text transform="translate(894.3,668.3) scale(0.94,1)" font-family='"Liberation Sans", sans-serif' font-size="35.5" fill="#FF0000" word-spacing="-3.8">11 K</text><text transform="translate(1031.5,645) scale(0.94,1)" font-family='"Liberation Sans", sans-serif' font-size="35.5" fill="#00FF00" word-spacing="-3.8">13 K</text><text transform="translate(1016.4,842.4) scale(0.94,1)" font-family='"Liberation Sans", sans-serif' font-size="35.5" fill="#000000" word-spacing="-3.8">15 K</text><rect x="1152" y="836" width="70" height="36" fill="#fff"/><text transform="translate(1153.8,866.7) scale(0.94,1)" font-family='"Liberation Sans", sans-serif' font-size="35.5" fill="#FF8000" word-spacing="-3.8">33 K</text><text transform="translate(1122.7,939.5) scale(0.94,1)" font-family='"Liberation Sans", sans-serif' font-size="35.5" fill="#00FF00" word-spacing="-3.8">43 K</text><text transform="translate(1001.2,1030) scale(0.94,1)" font-family='"Liberation Sans", sans-serif' font-size="35.5" fill="#FF00FF" word-spacing="-3.8">7.2 K</text><line x1="282.2" y1="553.5" x2="282.2" y2="536.7" stroke="#000000" stroke-width="3" stroke-linecap="round"/><line x1="282.2" y1="77.4" x2="282.2" y2="94.2" stroke="#000000" stroke-width="3" stroke-linecap="round"/><line x1="438.6" y1="553.5" x2="438.6" y2="536.7" stroke="#000000" stroke-width="3" stroke-linecap="round"/><line x1="438.6" y1="77.4" x2="438.6" y2="94.2" stroke="#000000" stroke-width="3" stroke-linecap="round"/><line x1="594.8" y1="553.5" x2="594.8" y2="536.7" stroke="#000000" stroke-width="3" stroke-linecap="round"/><line x1="594.8" y1="77.4" x2="594.8" y2="94.2" stroke="#000000" stroke-width="3" stroke-linecap="round"/><line x1="125.5" y1="510.01" x2="133.8" y2="510.01" stroke="#000000" stroke-width="3" stroke-linecap="round"/><line x1="673.2" y1="510.01" x2="664.9" y2="510.01" stroke="#000000" stroke-width="3" stroke-linecap="round"/><line x1="125.5" y1="476.27" x2="133.8" y2="476.27" stroke="#000000" stroke-width="3" stroke-linecap="round"/><line x1="673.2" y1="476.27" x2="664.9" y2="476.27" stroke="#000000" stroke-width="3" stroke-linecap="round"/><line x1="125.5" y1="448.71" x2="133.8" y2="448.71" stroke="#000000" stroke-width="3" stroke-linecap="round"/><line x1="673.2" y1="448.71" x2="664.9" y2="448.71" stroke="#000000" stroke-width="3" stroke-linecap="round"/><line x1="125.5" y1="425.41" x2="133.8" y2="425.41" stroke="#000000" stroke-width="3" stroke-linecap="round"/><line x1="673.2" y1="425.41" x2="664.9" y2="425.41" stroke="#000000" stroke-width="3" stroke-linecap="round"/><line x1="125.5" y1="405.22" x2="133.8" y2="405.22" stroke="#000000" stroke-width="3" stroke-linecap="round"/><line x1="673.2" y1="405.22" x2="664.9" y2="405.22" stroke="#000000" stroke-width="3" stroke-linecap="round"/><line x1="125.5" y1="387.41" x2="133.8" y2="387.41" stroke="#000000" stroke-width="3" stroke-linecap="round"/><line x1="673.2" y1="387.41" x2="664.9" y2="387.41" stroke="#000000" stroke-width="3" stroke-linecap="round"/><line x1="125.5" y1="371.49" x2="142.3" y2="371.49" stroke="#000000" stroke-width="3" stroke-linecap="round"/><line x1="673.2" y1="371.49" x2="656.4" y2="371.49" stroke="#000000" stroke-width="3" stroke-linecap="round"/><line x1="125.5" y1="266.7" x2="133.8" y2="266.7" stroke="#000000" stroke-width="3" stroke-linecap="round"/><line x1="673.2" y1="266.7" x2="664.9" y2="266.7" stroke="#000000" stroke-width="3" stroke-linecap="round"/><line x1="125.5" y1="205.4" x2="133.8" y2="205.4" stroke="#000000" stroke-width="3" stroke-linecap="round"/><line x1="673.2" y1="205.4" x2="664.9" y2="205.4" stroke="#000000" stroke-width="3" stroke-linecap="round"/><line x1="125.5" y1="161.91" x2="133.8" y2="161.91" stroke="#000000" stroke-width="3" stroke-linecap="round"/><line x1="673.2" y1="161.91" x2="664.9" y2="161.91" stroke="#000000" stroke-width="3" stroke-linecap="round"/><line x1="125.5" y1="128.17" x2="133.8" y2="128.17" stroke="#000000" stroke-width="3" stroke-linecap="round"/><line x1="673.2" y1="128.17" x2="664.9" y2="128.17" stroke="#000000" stroke-width="3" stroke-linecap="round"/><line x1="125.5" y1="100.61" x2="133.8" y2="100.61" stroke="#000000" stroke-width="3" stroke-linecap="round"/><line x1="673.2" y1="100.61" x2="664.9" y2="100.61" stroke="#000000" stroke-width="3" stroke-linecap="round"/><rect x="125.5" y="77.4" width="547.7" height="476.1" fill="none" stroke="#000" stroke-width="3.2" stroke-linejoin="round"/><line x1="282.2" y1="1077.5" x2="282.2" y2="1060.7" stroke="#000000" stroke-width="3" stroke-linecap="round"/><line x1="282.2" y1="602" x2="282.2" y2="618.8" stroke="#000000" stroke-width="3" stroke-linecap="round"/><line x1="438.6" y1="1077.5" x2="438.6" y2="1060.7" stroke="#000000" stroke-width="3" stroke-linecap="round"/><line x1="438.6" y1="602" x2="438.6" y2="618.8" stroke="#000000" stroke-width="3" stroke-linecap="round"/><line x1="594.8" y1="1077.5" x2="594.8" y2="1060.7" stroke="#000000" stroke-width="3" stroke-linecap="round"/><line x1="594.8" y1="602" x2="594.8" y2="618.8" stroke="#000000" stroke-width="3" stroke-linecap="round"/><line x1="125.5" y1="1007.4" x2="142.3" y2="1007.4" stroke="#000000" stroke-width="3" stroke-linecap="round"/><line x1="673.4" y1="1007.4" x2="656.6" y2="1007.4" stroke="#000000" stroke-width="3" stroke-linecap="round"/><line x1="125.5" y1="872" x2="142.3" y2="872" stroke="#000000" stroke-width="3" stroke-linecap="round"/><line x1="673.4" y1="872" x2="656.6" y2="872" stroke="#000000" stroke-width="3" stroke-linecap="round"/><line x1="125.5" y1="736.6" x2="142.3" y2="736.6" stroke="#000000" stroke-width="3" stroke-linecap="round"/><line x1="673.4" y1="736.6" x2="656.6" y2="736.6" stroke="#000000" stroke-width="3" stroke-linecap="round"/><rect x="125.5" y="602" width="547.9" height="475.5" fill="none" stroke="#000" stroke-width="3.2" stroke-linejoin="round"/><line x1="792.7" y1="553.4" x2="792.7" y2="545.1" stroke="#000000" stroke-width="3" stroke-linecap="round"/><line x1="792.7" y1="77.4" x2="792.7" y2="85.7" stroke="#000000" stroke-width="3" stroke-linecap="round"/><line x1="857.1" y1="553.4" x2="857.1" y2="536.6" stroke="#000000" stroke-width="3" stroke-linecap="round"/><line x1="857.1" y1="77.4" x2="857.1" y2="94.2" stroke="#000000" stroke-width="3" stroke-linecap="round"/><line x1="921.5" y1="553.4" x2="921.5" y2="545.1" stroke="#000000" stroke-width="3" stroke-linecap="round"/><line x1="921.5" y1="77.4" x2="921.5" y2="85.7" stroke="#000000" stroke-width="3" stroke-linecap="round"/><line x1="985.9" y1="553.4" x2="985.9" y2="536.6" stroke="#000000" stroke-width="3" stroke-linecap="round"/><line x1="985.9" y1="77.4" x2="985.9" y2="94.2" stroke="#000000" stroke-width="3" stroke-linecap="round"/><line x1="1050.3" y1="553.4" x2="1050.3" y2="545.1" stroke="#000000" stroke-width="3" stroke-linecap="round"/><line x1="1050.3" y1="77.4" x2="1050.3" y2="85.7" stroke="#000000" stroke-width="3" stroke-linecap="round"/><line x1="1114.7" y1="553.4" x2="1114.7" y2="536.6" stroke="#000000" stroke-width="3" stroke-linecap="round"/><line x1="1114.7" y1="77.4" x2="1114.7" y2="94.2" stroke="#000000" stroke-width="3" stroke-linecap="round"/><line x1="1179.1" y1="553.4" x2="1179.1" y2="545.1" stroke="#000000" stroke-width="3" stroke-linecap="round"/><line x1="1179.1" y1="77.4" x2="1179.1" y2="85.7" stroke="#000000" stroke-width="3" stroke-linecap="round"/><line x1="1243.5" y1="553.4" x2="1243.5" y2="536.6" stroke="#000000" stroke-width="3" stroke-linecap="round"/><line x1="1243.5" y1="77.4" x2="1243.5" y2="94.2" stroke="#000000" stroke-width="3" stroke-linecap="round"/><line x1="728.3" y1="507.6" x2="745.1" y2="507.6" stroke="#000000" stroke-width="3" stroke-linecap="round"/><line x1="1275.8" y1="507.6" x2="1259" y2="507.6" stroke="#000000" stroke-width="3" stroke-linecap="round"/><line x1="728.3" y1="430.6" x2="736.6" y2="430.6" stroke="#000000" stroke-width="3" stroke-linecap="round"/><line x1="1275.8" y1="430.6" x2="1267.5" y2="430.6" stroke="#000000" stroke-width="3" stroke-linecap="round"/><line x1="728.3" y1="353.6" x2="745.1" y2="353.6" stroke="#000000" stroke-width="3" stroke-linecap="round"/><line x1="1275.8" y1="353.6" x2="1259" y2="353.6" stroke="#000000" stroke-width="3" stroke-linecap="round"/><line x1="728.3" y1="276.6" x2="736.6" y2="276.6" stroke="#000000" stroke-width="3" stroke-linecap="round"/><line x1="1275.8" y1="276.6" x2="1267.5" y2="276.6" stroke="#000000" stroke-width="3" stroke-linecap="round"/><line x1="728.3" y1="199.6" x2="745.1" y2="199.6" stroke="#000000" stroke-width="3" stroke-linecap="round"/><line x1="1275.8" y1="199.6" x2="1259" y2="199.6" stroke="#000000" stroke-width="3" stroke-linecap="round"/><line x1="728.3" y1="122.6" x2="736.6" y2="122.6" stroke="#000000" stroke-width="3" stroke-linecap="round"/><line x1="1275.8" y1="122.6" x2="1267.5" y2="122.6" stroke="#000000" stroke-width="3" stroke-linecap="round"/><rect x="728.3" y="77.4" width="547.5" height="476" fill="none" stroke="#000" stroke-width="3.2" stroke-linejoin="round"/><line x1="792.7" y1="1077.4" x2="792.7" y2="1069.1" stroke="#000000" stroke-width="3" stroke-linecap="round"/><line x1="792.7" y1="602" x2="792.7" y2="610.3" stroke="#000000" stroke-width="3" stroke-linecap="round"/><line x1="857.1" y1="1077.4" x2="857.1" y2="1060.6" stroke="#000000" stroke-width="3" stroke-linecap="round"/><line x1="857.1" y1="602" x2="857.1" y2="618.8" stroke="#000000" stroke-width="3" stroke-linecap="round"/><line x1="921.5" y1="1077.4" x2="921.5" y2="1069.1" stroke="#000000" stroke-width="3" stroke-linecap="round"/><line x1="921.5" y1="602" x2="921.5" y2="610.3" stroke="#000000" stroke-width="3" stroke-linecap="round"/><line x1="985.9" y1="1077.4" x2="985.9" y2="1060.6" stroke="#000000" stroke-width="3" stroke-linecap="round"/><line x1="985.9" y1="602" x2="985.9" y2="618.8" stroke="#000000" stroke-width="3" stroke-linecap="round"/><line x1="1050.3" y1="1077.4" x2="1050.3" y2="1069.1" stroke="#000000" stroke-width="3" stroke-linecap="round"/><line x1="1050.3" y1="602" x2="1050.3" y2="610.3" stroke="#000000" stroke-width="3" stroke-linecap="round"/><line x1="1114.7" y1="1077.4" x2="1114.7" y2="1060.6" stroke="#000000" stroke-width="3" stroke-linecap="round"/><line x1="1114.7" y1="602" x2="1114.7" y2="618.8" stroke="#000000" stroke-width="3" stroke-linecap="round"/><line x1="1179.1" y1="1077.4" x2="1179.1" y2="1069.1" stroke="#000000" stroke-width="3" stroke-linecap="round"/><line x1="1179.1" y1="602" x2="1179.1" y2="610.3" stroke="#000000" stroke-width="3" stroke-linecap="round"/><line x1="1243.5" y1="1077.4" x2="1243.5" y2="1060.6" stroke="#000000" stroke-width="3" stroke-linecap="round"/><line x1="1243.5" y1="602" x2="1243.5" y2="618.8" stroke="#000000" stroke-width="3" stroke-linecap="round"/><line x1="728.3" y1="1009.45" x2="736.6" y2="1009.45" stroke="#000000" stroke-width="3" stroke-linecap="round"/><line x1="1275.8" y1="1009.45" x2="1267.5" y2="1009.45" stroke="#000000" stroke-width="3" stroke-linecap="round"/><line x1="728.3" y1="941.5" x2="745.1" y2="941.5" stroke="#000000" stroke-width="3" stroke-linecap="round"/><line x1="1275.8" y1="941.5" x2="1259" y2="941.5" stroke="#000000" stroke-width="3" stroke-linecap="round"/><line x1="728.3" y1="873.55" x2="736.6" y2="873.55" stroke="#000000" stroke-width="3" stroke-linecap="round"/><line x1="1275.8" y1="873.55" x2="1267.5" y2="873.55" stroke="#000000" stroke-width="3" stroke-linecap="round"/><line x1="728.3" y1="805.6" x2="745.1" y2="805.6" stroke="#000000" stroke-width="3" stroke-linecap="round"/><line x1="1275.8" y1="805.6" x2="1259" y2="805.6" stroke="#000000" stroke-width="3" stroke-linecap="round"/><line x1="728.3" y1="737.65" x2="736.6" y2="737.65" stroke="#000000" stroke-width="3" stroke-linecap="round"/><line x1="1275.8" y1="737.65" x2="1267.5" y2="737.65" stroke="#000000" stroke-width="3" stroke-linecap="round"/><line x1="728.3" y1="669.7" x2="745.1" y2="669.7" stroke="#000000" stroke-width="3" stroke-linecap="round"/><line x1="1275.8" y1="669.7" x2="1259" y2="669.7" stroke="#000000" stroke-width="3" stroke-linecap="round"/><rect x="728.3" y="602" width="547.5" height="475.4" fill="none" stroke="#000" stroke-width="3.2" stroke-linejoin="round"/><text x="106.5" y="88.3" font-family='"Liberation Sans", sans-serif' font-size="38" fill="#000000" text-anchor="end">700</text><text x="106.5" y="383" font-family='"Liberation Sans", sans-serif' font-size="38" fill="#000000" text-anchor="end">100</text><text x="106.5" y="565.3" font-family='"Liberation Sans", sans-serif' font-size="38" fill="#000000" text-anchor="end">30</text><text x="94.5" y="614.7" font-family='"Liberation Sans", sans-serif' font-size="38" fill="#000000" text-anchor="end">10</text><text x="93" y="595.2" font-family='"Liberation Sans", sans-serif' font-size="22.5" fill="#000000" text-anchor="start">3</text><text x="94.5" y="750.1" font-family='"Liberation Sans", sans-serif' font-size="38" fill="#000000" text-anchor="end">10</text><text x="93" y="730.6" font-family='"Liberation Sans", sans-serif' font-size="22.5" fill="#000000" text-anchor="start">2</text><text x="94.5" y="885.5" font-family='"Liberation Sans", sans-serif' font-size="38" fill="#000000" text-anchor="end">10</text><text x="93" y="866" font-family='"Liberation Sans", sans-serif' font-size="22.5" fill="#000000" text-anchor="start">1</text><text x="94.5" y="1020.9" font-family='"Liberation Sans", sans-serif' font-size="38" fill="#000000" text-anchor="end">10</text><text x="93" y="1001.4" font-family='"Liberation Sans", sans-serif' font-size="22.5" fill="#000000" text-anchor="start">0</text><text x="140.5" y="1131" font-family='"Liberation Sans", sans-serif' font-size="38" fill="#000000" text-anchor="end">10</text><text x="139.5" y="1112.3" font-family='"Liberation Sans", sans-serif' font-size="22.5" fill="#000000" text-anchor="start">0</text><text x="297.2" y="1131" font-family='"Liberation Sans", sans-serif' font-size="38" fill="#000000" text-anchor="end">10</text><text x="296.2" y="1112.3" font-family='"Liberation Sans", sans-serif' font-size="22.5" fill="#000000" text-anchor="start">2</text><text x="453.6" y="1131" font-family='"Liberation Sans", sans-serif' font-size="38" fill="#000000" text-anchor="end">10</text><text x="452.6" y="1112.3" font-family='"Liberation Sans", sans-serif' font-size="22.5" fill="#000000" text-anchor="start">4</text><text x="609.8" y="1131" font-family='"Liberation Sans", sans-serif' font-size="38" fill="#000000" text-anchor="end">10</text><text x="608.8" y="1112.3" font-family='"Liberation Sans", sans-serif' font-size="22.5" fill="#000000" text-anchor="start">6</text><text x="743.3" y="1131" font-family='"Liberation Sans", sans-serif' font-size="38" fill="#000000" text-anchor="end">10</text><text x="742.3" y="1112.3" font-family='"Liberation Sans", sans-serif' font-size="22.5" fill="#000000" text-anchor="start">0</text><text x="872.1" y="1131" font-family='"Liberation Sans", sans-serif' font-size="38" fill="#000000" text-anchor="end">10</text><text x="871.1" y="1112.3" font-family='"Liberation Sans", sans-serif' font-size="22.5" fill="#000000" text-anchor="start">2</text><text x="1000.9" y="1131" font-family='"Liberation Sans", sans-serif' font-size="38" fill="#000000" text-anchor="end">10</text><text x="999.9" y="1112.3" font-family='"Liberation Sans", sans-serif' font-size="22.5" fill="#000000" text-anchor="start">4</text><text x="1129.7" y="1131" font-family='"Liberation Sans", sans-serif' font-size="38" fill="#000000" text-anchor="end">10</text><text x="1128.7" y="1112.3" font-family='"Liberation Sans", sans-serif' font-size="22.5" fill="#000000" text-anchor="start">6</text><text x="1258.5" y="1131" font-family='"Liberation Sans", sans-serif' font-size="38" fill="#000000" text-anchor="end">10</text><text x="1257.5" y="1112.3" font-family='"Liberation Sans", sans-serif' font-size="22.5" fill="#000000" text-anchor="start">8</text><text x="1292.5" y="211.6" font-family='"Liberation Sans", sans-serif' font-size="38" fill="#000000" text-anchor="start">33</text><text x="1292.5" y="365.6" font-family='"Liberation Sans", sans-serif' font-size="38" fill="#000000" text-anchor="start">32</text><text x="1292.5" y="519.6" font-family='"Liberation Sans", sans-serif' font-size="38" fill="#000000" text-anchor="start">31</text><text x="1293.5" y="680.7" font-family='"Liberation Sans", sans-serif' font-size="38" fill="#000000" text-anchor="start">0.4</text><text x="1293.5" y="816.6" font-family='"Liberation Sans", sans-serif' font-size="38" fill="#000000" text-anchor="start">0.3</text><text x="1293.5" y="952.5" font-family='"Liberation Sans", sans-serif' font-size="38" fill="#000000" text-anchor="start">0.2</text><text x="1293.5" y="1088.4" font-family='"Liberation Sans", sans-serif' font-size="38" fill="#000000" text-anchor="start">0.1</text><text transform="translate(518.6,1182.5) scale(0.982,1)" font-family='"Liberation Sans", sans-serif' font-size="51.5" fill="#000">Frequency (Hz)</text><g transform="translate(39.9,531) rotate(-90) scale(0.962,1)"><text x="0" y="0" font-family='"Liberation Sans", sans-serif' font-size="47.8" fill="#000000" text-anchor="start">Dielectric constant</text></g><g transform="translate(38.1,1016.3) rotate(-90) scale(0.962,1)"><text x="0" y="0" font-family='"Liberation Sans", sans-serif' font-size="47.8" fill="#000000" text-anchor="start">Dielectric loss</text></g><g transform="translate(39.4,141.4) rotate(-90)"><text x="0" y="0" font-family='"Liberation Serif", serif' font-size="54" fill="#000000" text-anchor="start" font-style="italic">ε</text></g><g transform="translate(37.3,714.6) rotate(-90)"><text x="0" y="0" font-family='"Liberation Serif", serif' font-size="54" fill="#000000" text-anchor="start" font-style="italic">ε</text></g><path d="M2.3 101.95L16.1 103.45L16.1 105.75L2.3 107.25z" fill="#000"/><path d="M0.5 664.9L14.1 666.2L14.1 668.4L0.5 669.7z" fill="#000"/><path d="M0.5 675.1L14.1 676.4L14.1 678.6L0.5 679.9z" fill="#000"/><text transform="translate(482.92,35) scale(0.95,1)" font-family='"Liberation Sans", sans-serif' font-size="51" fill="#000">Ba</text><text x="541.2" y="51.3" font-family='"Liberation Sans", sans-serif' font-size="29" fill="#000000" text-anchor="start">0.8</text><text transform="translate(581.42,35) scale(0.95,1)" font-family='"Liberation Sans", sans-serif' font-size="51" fill="#000">Pb</text><text x="640.2" y="51.3" font-family='"Liberation Sans", sans-serif' font-size="29" fill="#000000" text-anchor="start">0.2</text><text transform="translate(679.52,35) scale(0.95,1)" font-family='"Liberation Sans", sans-serif' font-size="51" fill="#000">Fe</text><text x="737.6" y="51.3" font-family='"Liberation Sans", sans-serif' font-size="29" fill="#000000" text-anchor="start">12</text><text transform="translate(768.18,35) scale(0.95,1)" font-family='"Liberation Sans", sans-serif' font-size="51" fill="#000">O</text><text x="807.5" y="51.3" font-family='"Liberation Sans", sans-serif' font-size="29" fill="#000000" text-anchor="start">19</text><text transform="translate(864.32,35) scale(0.95,1)" font-family='"Liberation Sans", sans-serif' font-size="51" fill="#000">E</text><line x1="912.9" y1="2.2" x2="912.9" y2="34.6" stroke="#000000" stroke-width="2.6" stroke-linecap="butt"/><line x1="897.6" y1="33.3" x2="927.7" y2="33.3" stroke="#000000" stroke-width="2.6" stroke-linecap="butt"/><text transform="translate(928.06,35) scale(0.95,1)" font-family='"Liberation Sans", sans-serif' font-size="51" fill="#000">c</text></svg></body></html>
